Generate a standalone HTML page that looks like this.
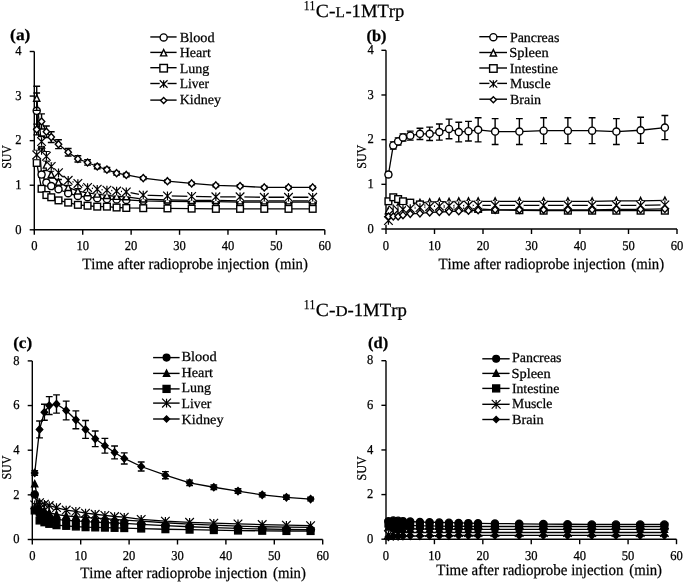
<!DOCTYPE html><html><head><meta charset="utf-8"><style>html,body{margin:0;padding:0;background:#fff;overflow:hidden}svg{display:block;will-change:transform}text{font-family:"Liberation Serif",serif;fill:#000;stroke:#000;stroke-width:0.25px;font-kerning:none;text-rendering:geometricPrecision}</style></head><body>
<svg width="685" height="583" viewBox="0 0 685 583">
<rect width="685" height="583" fill="#fff"/>
<path d="M34.3 51.5V229.8H324.8" fill="none" stroke="#000" stroke-width="1.4"/>
<path d="M29.70 229.80H34.3" stroke="#000" stroke-width="1.4"/>
<text x="21.50" y="233.50" font-size="13.5" text-anchor="end" textLength="6.28" lengthAdjust="spacingAndGlyphs">0</text>
<path d="M29.70 185.23H34.3" stroke="#000" stroke-width="1.4"/>
<text x="21.50" y="188.93" font-size="13.5" text-anchor="end" textLength="6.28" lengthAdjust="spacingAndGlyphs">1</text>
<path d="M29.70 140.65H34.3" stroke="#000" stroke-width="1.4"/>
<text x="21.50" y="144.35" font-size="13.5" text-anchor="end" textLength="6.28" lengthAdjust="spacingAndGlyphs">2</text>
<path d="M29.70 96.07H34.3" stroke="#000" stroke-width="1.4"/>
<text x="21.50" y="99.77" font-size="13.5" text-anchor="end" textLength="6.28" lengthAdjust="spacingAndGlyphs">3</text>
<path d="M29.70 51.50H34.3" stroke="#000" stroke-width="1.4"/>
<text x="21.50" y="55.20" font-size="13.5" text-anchor="end" textLength="6.28" lengthAdjust="spacingAndGlyphs">4</text>
<path d="M34.30 229.8V234.8" stroke="#000" stroke-width="1.4"/>
<text x="34.30" y="250.30" font-size="13.5" text-anchor="middle" textLength="6.28" lengthAdjust="spacingAndGlyphs">0</text>
<path d="M82.72 229.8V234.8" stroke="#000" stroke-width="1.4"/>
<text x="82.72" y="250.30" font-size="13.5" text-anchor="middle" textLength="12.56" lengthAdjust="spacingAndGlyphs">10</text>
<path d="M131.13 229.8V234.8" stroke="#000" stroke-width="1.4"/>
<text x="131.13" y="250.30" font-size="13.5" text-anchor="middle" textLength="12.56" lengthAdjust="spacingAndGlyphs">20</text>
<path d="M179.55 229.8V234.8" stroke="#000" stroke-width="1.4"/>
<text x="179.55" y="250.30" font-size="13.5" text-anchor="middle" textLength="12.56" lengthAdjust="spacingAndGlyphs">30</text>
<path d="M227.97 229.8V234.8" stroke="#000" stroke-width="1.4"/>
<text x="227.97" y="250.30" font-size="13.5" text-anchor="middle" textLength="12.56" lengthAdjust="spacingAndGlyphs">40</text>
<path d="M276.38 229.8V234.8" stroke="#000" stroke-width="1.4"/>
<text x="276.38" y="250.30" font-size="13.5" text-anchor="middle" textLength="12.56" lengthAdjust="spacingAndGlyphs">50</text>
<path d="M324.80 229.8V234.8" stroke="#000" stroke-width="1.4"/>
<text x="324.80" y="250.30" font-size="13.5" text-anchor="middle" textLength="12.56" lengthAdjust="spacingAndGlyphs">60</text>
<polyline points="36.72,110.78 41.56,174.53 46.40,182.55 51.25,186.12 58.51,189.24 68.19,193.25 77.88,195.92 87.56,197.26 97.24,198.15 106.92,199.04 116.61,199.49 126.29,199.93 143.24,200.83 167.45,201.27 191.65,201.72 215.86,201.72 240.07,202.16 264.28,202.16 288.49,202.16 312.70,202.16" fill="none" stroke="#000" stroke-width="1.3" stroke-linejoin="round"/>
<polyline points="36.72,98.30 41.56,145.11 46.40,165.17 51.25,174.53 58.51,182.10 68.19,187.45 77.88,191.02 87.56,192.80 97.24,194.14 106.92,195.48 116.61,196.37 126.29,196.81 143.24,199.04 167.45,199.93 191.65,200.38 215.86,200.38 240.07,200.83 264.28,200.83 288.49,200.83 312.70,200.83" fill="none" stroke="#000" stroke-width="1.3" stroke-linejoin="round"/>
<polyline points="36.72,162.94 41.56,188.79 46.40,195.03 51.25,197.26 58.51,200.38 68.19,202.61 77.88,204.84 87.56,205.73 97.24,206.62 106.92,206.62 116.61,207.51 126.29,207.96 143.24,208.18 167.45,208.40 191.65,208.63 215.86,208.85 240.07,208.85 264.28,208.85 288.49,208.85 312.70,208.85" fill="none" stroke="#000" stroke-width="1.3" stroke-linejoin="round"/>
<polyline points="36.72,154.91 41.56,141.54 46.40,156.25 51.25,166.50 58.51,172.74 68.19,180.32 77.88,183.44 87.56,187.45 97.24,189.24 106.92,190.13 116.61,191.02 126.29,191.91 143.24,195.03 167.45,195.92 191.65,196.37 215.86,196.81 240.07,196.81 264.28,197.26 288.49,197.26 312.70,197.26" fill="none" stroke="#000" stroke-width="1.3" stroke-linejoin="round"/>
<polyline points="36.72,129.51 41.56,121.48 46.40,131.74 51.25,137.08 58.51,144.22 68.19,152.24 77.88,158.93 87.56,162.49 97.24,166.50 106.92,169.62 116.61,173.19 126.29,174.97 143.24,178.09 167.45,181.21 191.65,183.44 215.86,185.45 240.07,186.12 264.28,187.45 288.49,187.45 312.70,187.45" fill="none" stroke="#000" stroke-width="1.3" stroke-linejoin="round"/>
<path d="M36.72 92.95V128.61M33.32 92.95H40.12M33.32 128.61H40.12" stroke="#000" stroke-width="1.4"/>
<path d="M41.56 171.85V177.20M38.16 171.85H44.96M38.16 177.20H44.96" stroke="#000" stroke-width="1.4"/>
<path d="M46.40 180.32V184.78M43.00 180.32H49.80M43.00 184.78H49.80" stroke="#000" stroke-width="1.4"/>
<path d="M51.25 184.33V187.90M47.85 184.33H54.65M47.85 187.90H54.65" stroke="#000" stroke-width="1.4"/>
<path d="M58.51 187.90V190.57M55.11 187.90H61.91M55.11 190.57H61.91" stroke="#000" stroke-width="1.4"/>
<path d="M68.19 191.91V194.59M64.79 191.91H71.59M64.79 194.59H71.59" stroke="#000" stroke-width="1.4"/>
<path d="M77.88 194.59V197.26M74.47 194.59H81.28M74.47 197.26H81.28" stroke="#000" stroke-width="1.4"/>
<path d="M87.56 195.92V198.60M84.16 195.92H90.96M84.16 198.60H90.96" stroke="#000" stroke-width="1.4"/>
<path d="M97.24 196.81V199.49M93.84 196.81H100.64M93.84 199.49H100.64" stroke="#000" stroke-width="1.4"/>
<path d="M106.92 197.71V200.38M103.52 197.71H110.33M103.52 200.38H110.33" stroke="#000" stroke-width="1.4"/>
<path d="M116.61 198.15V200.83M113.21 198.15H120.01M113.21 200.83H120.01" stroke="#000" stroke-width="1.4"/>
<path d="M126.29 198.60V201.27M122.89 198.60H129.69M122.89 201.27H129.69" stroke="#000" stroke-width="1.4"/>
<path d="M143.24 199.49V202.16M139.84 199.49H146.64M139.84 202.16H146.64" stroke="#000" stroke-width="1.4"/>
<path d="M167.45 199.93V202.61M164.05 199.93H170.85M164.05 202.61H170.85" stroke="#000" stroke-width="1.4"/>
<path d="M191.65 200.38V203.06M188.25 200.38H195.05M188.25 203.06H195.05" stroke="#000" stroke-width="1.4"/>
<path d="M215.86 200.38V203.06M212.46 200.38H219.26M212.46 203.06H219.26" stroke="#000" stroke-width="1.4"/>
<path d="M240.07 200.83V203.50M236.67 200.83H243.47M236.67 203.50H243.47" stroke="#000" stroke-width="1.4"/>
<path d="M264.28 200.83V203.50M260.88 200.83H267.68M260.88 203.50H267.68" stroke="#000" stroke-width="1.4"/>
<path d="M288.49 200.83V203.50M285.09 200.83H291.89M285.09 203.50H291.89" stroke="#000" stroke-width="1.4"/>
<path d="M312.70 200.83V203.50M309.30 200.83H316.10M309.30 203.50H316.10" stroke="#000" stroke-width="1.4"/>
<circle cx="36.72" cy="110.78" r="3.55" fill="#fff" stroke="#000" stroke-width="1.4"/>
<circle cx="41.56" cy="174.53" r="3.55" fill="#fff" stroke="#000" stroke-width="1.4"/>
<circle cx="46.40" cy="182.55" r="3.55" fill="#fff" stroke="#000" stroke-width="1.4"/>
<circle cx="51.25" cy="186.12" r="3.55" fill="#fff" stroke="#000" stroke-width="1.4"/>
<circle cx="58.51" cy="189.24" r="3.55" fill="#fff" stroke="#000" stroke-width="1.4"/>
<circle cx="68.19" cy="193.25" r="3.55" fill="#fff" stroke="#000" stroke-width="1.4"/>
<circle cx="77.88" cy="195.92" r="3.55" fill="#fff" stroke="#000" stroke-width="1.4"/>
<circle cx="87.56" cy="197.26" r="3.55" fill="#fff" stroke="#000" stroke-width="1.4"/>
<circle cx="97.24" cy="198.15" r="3.55" fill="#fff" stroke="#000" stroke-width="1.4"/>
<circle cx="106.92" cy="199.04" r="3.55" fill="#fff" stroke="#000" stroke-width="1.4"/>
<circle cx="116.61" cy="199.49" r="3.55" fill="#fff" stroke="#000" stroke-width="1.4"/>
<circle cx="126.29" cy="199.93" r="3.55" fill="#fff" stroke="#000" stroke-width="1.4"/>
<circle cx="143.24" cy="200.83" r="3.55" fill="#fff" stroke="#000" stroke-width="1.4"/>
<circle cx="167.45" cy="201.27" r="3.55" fill="#fff" stroke="#000" stroke-width="1.4"/>
<circle cx="191.65" cy="201.72" r="3.55" fill="#fff" stroke="#000" stroke-width="1.4"/>
<circle cx="215.86" cy="201.72" r="3.55" fill="#fff" stroke="#000" stroke-width="1.4"/>
<circle cx="240.07" cy="202.16" r="3.55" fill="#fff" stroke="#000" stroke-width="1.4"/>
<circle cx="264.28" cy="202.16" r="3.55" fill="#fff" stroke="#000" stroke-width="1.4"/>
<circle cx="288.49" cy="202.16" r="3.55" fill="#fff" stroke="#000" stroke-width="1.4"/>
<circle cx="312.70" cy="202.16" r="3.55" fill="#fff" stroke="#000" stroke-width="1.4"/>
<path d="M36.72 86.27V110.34M33.32 86.27H40.12M33.32 110.34H40.12" stroke="#000" stroke-width="1.4"/>
<path d="M41.56 136.19V154.02M38.16 136.19H44.96M38.16 154.02H44.96" stroke="#000" stroke-width="1.4"/>
<path d="M46.40 159.82V170.52M43.00 159.82H49.80M43.00 170.52H49.80" stroke="#000" stroke-width="1.4"/>
<path d="M51.25 170.96V178.09M47.85 170.96H54.65M47.85 178.09H54.65" stroke="#000" stroke-width="1.4"/>
<path d="M58.51 179.43V184.78M55.11 179.43H61.91M55.11 184.78H61.91" stroke="#000" stroke-width="1.4"/>
<path d="M68.19 185.23V189.68M64.79 185.23H71.59M64.79 189.68H71.59" stroke="#000" stroke-width="1.4"/>
<path d="M77.88 188.79V193.25M74.47 188.79H81.28M74.47 193.25H81.28" stroke="#000" stroke-width="1.4"/>
<path d="M87.56 190.57V195.03M84.16 190.57H90.96M84.16 195.03H90.96" stroke="#000" stroke-width="1.4"/>
<path d="M97.24 192.36V195.92M93.84 192.36H100.64M93.84 195.92H100.64" stroke="#000" stroke-width="1.4"/>
<path d="M106.92 193.69V197.26M103.52 193.69H110.33M103.52 197.26H110.33" stroke="#000" stroke-width="1.4"/>
<path d="M116.61 194.59V198.15M113.21 194.59H120.01M113.21 198.15H120.01" stroke="#000" stroke-width="1.4"/>
<path d="M126.29 195.03V198.60M122.89 195.03H129.69M122.89 198.60H129.69" stroke="#000" stroke-width="1.4"/>
<path d="M143.24 197.71V200.38M139.84 197.71H146.64M139.84 200.38H146.64" stroke="#000" stroke-width="1.4"/>
<path d="M167.45 198.60V201.27M164.05 198.60H170.85M164.05 201.27H170.85" stroke="#000" stroke-width="1.4"/>
<path d="M191.65 199.04V201.72M188.25 199.04H195.05M188.25 201.72H195.05" stroke="#000" stroke-width="1.4"/>
<path d="M215.86 199.04V201.72M212.46 199.04H219.26M212.46 201.72H219.26" stroke="#000" stroke-width="1.4"/>
<path d="M240.07 199.49V202.16M236.67 199.49H243.47M236.67 202.16H243.47" stroke="#000" stroke-width="1.4"/>
<path d="M264.28 199.49V202.16M260.88 199.49H267.68M260.88 202.16H267.68" stroke="#000" stroke-width="1.4"/>
<path d="M288.49 199.49V202.16M285.09 199.49H291.89M285.09 202.16H291.89" stroke="#000" stroke-width="1.4"/>
<path d="M312.70 199.49V202.16M309.30 199.49H316.10M309.30 202.16H316.10" stroke="#000" stroke-width="1.4"/>
<path d="M36.72 94.90L39.82 101.30L33.62 101.30Z" fill="#fff" stroke="#000" stroke-width="1.4" stroke-linejoin="miter"/>
<path d="M41.56 141.71L44.66 148.11L38.46 148.11Z" fill="#fff" stroke="#000" stroke-width="1.4" stroke-linejoin="miter"/>
<path d="M46.40 161.77L49.50 168.17L43.30 168.17Z" fill="#fff" stroke="#000" stroke-width="1.4" stroke-linejoin="miter"/>
<path d="M51.25 171.13L54.35 177.53L48.15 177.53Z" fill="#fff" stroke="#000" stroke-width="1.4" stroke-linejoin="miter"/>
<path d="M58.51 178.70L61.61 185.10L55.41 185.10Z" fill="#fff" stroke="#000" stroke-width="1.4" stroke-linejoin="miter"/>
<path d="M68.19 184.05L71.29 190.45L65.09 190.45Z" fill="#fff" stroke="#000" stroke-width="1.4" stroke-linejoin="miter"/>
<path d="M77.88 187.62L80.97 194.02L74.78 194.02Z" fill="#fff" stroke="#000" stroke-width="1.4" stroke-linejoin="miter"/>
<path d="M87.56 189.40L90.66 195.80L84.46 195.80Z" fill="#fff" stroke="#000" stroke-width="1.4" stroke-linejoin="miter"/>
<path d="M97.24 190.74L100.34 197.14L94.14 197.14Z" fill="#fff" stroke="#000" stroke-width="1.4" stroke-linejoin="miter"/>
<path d="M106.92 192.08L110.02 198.48L103.83 198.48Z" fill="#fff" stroke="#000" stroke-width="1.4" stroke-linejoin="miter"/>
<path d="M116.61 192.97L119.71 199.37L113.51 199.37Z" fill="#fff" stroke="#000" stroke-width="1.4" stroke-linejoin="miter"/>
<path d="M126.29 193.41L129.39 199.81L123.19 199.81Z" fill="#fff" stroke="#000" stroke-width="1.4" stroke-linejoin="miter"/>
<path d="M143.24 195.64L146.34 202.04L140.14 202.04Z" fill="#fff" stroke="#000" stroke-width="1.4" stroke-linejoin="miter"/>
<path d="M167.45 196.53L170.55 202.93L164.35 202.93Z" fill="#fff" stroke="#000" stroke-width="1.4" stroke-linejoin="miter"/>
<path d="M191.65 196.98L194.75 203.38L188.55 203.38Z" fill="#fff" stroke="#000" stroke-width="1.4" stroke-linejoin="miter"/>
<path d="M215.86 196.98L218.96 203.38L212.76 203.38Z" fill="#fff" stroke="#000" stroke-width="1.4" stroke-linejoin="miter"/>
<path d="M240.07 197.43L243.17 203.83L236.97 203.83Z" fill="#fff" stroke="#000" stroke-width="1.4" stroke-linejoin="miter"/>
<path d="M264.28 197.43L267.38 203.83L261.18 203.83Z" fill="#fff" stroke="#000" stroke-width="1.4" stroke-linejoin="miter"/>
<path d="M288.49 197.43L291.59 203.83L285.39 203.83Z" fill="#fff" stroke="#000" stroke-width="1.4" stroke-linejoin="miter"/>
<path d="M312.70 197.43L315.80 203.83L309.60 203.83Z" fill="#fff" stroke="#000" stroke-width="1.4" stroke-linejoin="miter"/>
<rect x="33.37" y="159.59" width="6.7" height="6.7" fill="#fff" stroke="#000" stroke-width="1.4"/>
<rect x="38.21" y="185.44" width="6.7" height="6.7" fill="#fff" stroke="#000" stroke-width="1.4"/>
<rect x="43.05" y="191.68" width="6.7" height="6.7" fill="#fff" stroke="#000" stroke-width="1.4"/>
<rect x="47.90" y="193.91" width="6.7" height="6.7" fill="#fff" stroke="#000" stroke-width="1.4"/>
<rect x="55.16" y="197.03" width="6.7" height="6.7" fill="#fff" stroke="#000" stroke-width="1.4"/>
<rect x="64.84" y="199.26" width="6.7" height="6.7" fill="#fff" stroke="#000" stroke-width="1.4"/>
<rect x="74.53" y="201.49" width="6.7" height="6.7" fill="#fff" stroke="#000" stroke-width="1.4"/>
<rect x="84.21" y="202.38" width="6.7" height="6.7" fill="#fff" stroke="#000" stroke-width="1.4"/>
<rect x="93.89" y="203.27" width="6.7" height="6.7" fill="#fff" stroke="#000" stroke-width="1.4"/>
<rect x="103.58" y="203.27" width="6.7" height="6.7" fill="#fff" stroke="#000" stroke-width="1.4"/>
<rect x="113.26" y="204.16" width="6.7" height="6.7" fill="#fff" stroke="#000" stroke-width="1.4"/>
<rect x="122.94" y="204.61" width="6.7" height="6.7" fill="#fff" stroke="#000" stroke-width="1.4"/>
<rect x="139.89" y="204.83" width="6.7" height="6.7" fill="#fff" stroke="#000" stroke-width="1.4"/>
<rect x="164.10" y="205.05" width="6.7" height="6.7" fill="#fff" stroke="#000" stroke-width="1.4"/>
<rect x="188.30" y="205.28" width="6.7" height="6.7" fill="#fff" stroke="#000" stroke-width="1.4"/>
<rect x="212.51" y="205.50" width="6.7" height="6.7" fill="#fff" stroke="#000" stroke-width="1.4"/>
<rect x="236.72" y="205.50" width="6.7" height="6.7" fill="#fff" stroke="#000" stroke-width="1.4"/>
<rect x="260.93" y="205.50" width="6.7" height="6.7" fill="#fff" stroke="#000" stroke-width="1.4"/>
<rect x="285.14" y="205.50" width="6.7" height="6.7" fill="#fff" stroke="#000" stroke-width="1.4"/>
<rect x="309.35" y="205.50" width="6.7" height="6.7" fill="#fff" stroke="#000" stroke-width="1.4"/>
<path d="M36.72 150.46V159.37M33.32 150.46H40.12M33.32 159.37H40.12" stroke="#000" stroke-width="1.4"/>
<path d="M41.56 136.19V146.89M38.16 136.19H44.96M38.16 146.89H44.96" stroke="#000" stroke-width="1.4"/>
<path d="M46.40 151.79V160.71M43.00 151.79H49.80M43.00 160.71H49.80" stroke="#000" stroke-width="1.4"/>
<path d="M51.25 162.94V170.07M47.85 162.94H54.65M47.85 170.07H54.65" stroke="#000" stroke-width="1.4"/>
<path d="M58.51 170.07V175.42M55.11 170.07H61.91M55.11 175.42H61.91" stroke="#000" stroke-width="1.4"/>
<path d="M68.19 178.09V182.55M64.79 178.09H71.59M64.79 182.55H71.59" stroke="#000" stroke-width="1.4"/>
<path d="M77.88 181.21V185.67M74.47 181.21H81.28M74.47 185.67H81.28" stroke="#000" stroke-width="1.4"/>
<path d="M87.56 185.23V189.68M84.16 185.23H90.96M84.16 189.68H90.96" stroke="#000" stroke-width="1.4"/>
<path d="M97.24 187.45V191.02M93.84 187.45H100.64M93.84 191.02H100.64" stroke="#000" stroke-width="1.4"/>
<path d="M106.92 188.35V191.91M103.52 188.35H110.33M103.52 191.91H110.33" stroke="#000" stroke-width="1.4"/>
<path d="M116.61 189.24V192.80M113.21 189.24H120.01M113.21 192.80H120.01" stroke="#000" stroke-width="1.4"/>
<path d="M126.29 190.13V193.69M122.89 190.13H129.69M122.89 193.69H129.69" stroke="#000" stroke-width="1.4"/>
<path d="M143.24 193.69V196.37M139.84 193.69H146.64M139.84 196.37H146.64" stroke="#000" stroke-width="1.4"/>
<path d="M167.45 194.59V197.26M164.05 194.59H170.85M164.05 197.26H170.85" stroke="#000" stroke-width="1.4"/>
<path d="M191.65 195.03V197.71M188.25 195.03H195.05M188.25 197.71H195.05" stroke="#000" stroke-width="1.4"/>
<path d="M215.86 195.48V198.15M212.46 195.48H219.26M212.46 198.15H219.26" stroke="#000" stroke-width="1.4"/>
<path d="M240.07 195.48V198.15M236.67 195.48H243.47M236.67 198.15H243.47" stroke="#000" stroke-width="1.4"/>
<path d="M264.28 195.92V198.60M260.88 195.92H267.68M260.88 198.60H267.68" stroke="#000" stroke-width="1.4"/>
<path d="M288.49 195.92V198.60M285.09 195.92H291.89M285.09 198.60H291.89" stroke="#000" stroke-width="1.4"/>
<path d="M312.70 195.92V198.60M309.30 195.92H316.10M309.30 198.60H316.10" stroke="#000" stroke-width="1.4"/>
<rect x="32.42" y="150.61" width="8.60" height="8.60" fill="#fff"/><path d="M32.42 150.61L41.02 159.21M41.02 150.61L32.42 159.21M36.72 150.61L36.72 159.21" fill="none" stroke="#000" stroke-width="1.2"/>
<rect x="37.26" y="137.24" width="8.60" height="8.60" fill="#fff"/><path d="M37.26 137.24L45.86 145.84M45.86 137.24L37.26 145.84M41.56 137.24L41.56 145.84" fill="none" stroke="#000" stroke-width="1.2"/>
<rect x="42.10" y="151.95" width="8.60" height="8.60" fill="#fff"/><path d="M42.10 151.95L50.70 160.55M50.70 151.95L42.10 160.55M46.40 151.95L46.40 160.55" fill="none" stroke="#000" stroke-width="1.2"/>
<rect x="46.95" y="162.20" width="8.60" height="8.60" fill="#fff"/><path d="M46.95 162.20L55.55 170.80M55.55 162.20L46.95 170.80M51.25 162.20L51.25 170.80" fill="none" stroke="#000" stroke-width="1.2"/>
<rect x="54.21" y="168.44" width="8.60" height="8.60" fill="#fff"/><path d="M54.21 168.44L62.81 177.04M62.81 168.44L54.21 177.04M58.51 168.44L58.51 177.04" fill="none" stroke="#000" stroke-width="1.2"/>
<rect x="63.89" y="176.02" width="8.60" height="8.60" fill="#fff"/><path d="M63.89 176.02L72.49 184.62M72.49 176.02L63.89 184.62M68.19 176.02L68.19 184.62" fill="none" stroke="#000" stroke-width="1.2"/>
<rect x="73.58" y="179.14" width="8.60" height="8.60" fill="#fff"/><path d="M73.58 179.14L82.17 187.74M82.17 179.14L73.58 187.74M77.88 179.14L77.88 187.74" fill="none" stroke="#000" stroke-width="1.2"/>
<rect x="83.26" y="183.15" width="8.60" height="8.60" fill="#fff"/><path d="M83.26 183.15L91.86 191.75M91.86 183.15L83.26 191.75M87.56 183.15L87.56 191.75" fill="none" stroke="#000" stroke-width="1.2"/>
<rect x="92.94" y="184.94" width="8.60" height="8.60" fill="#fff"/><path d="M92.94 184.94L101.54 193.54M101.54 184.94L92.94 193.54M97.24 184.94L97.24 193.54" fill="none" stroke="#000" stroke-width="1.2"/>
<rect x="102.62" y="185.83" width="8.60" height="8.60" fill="#fff"/><path d="M102.62 185.83L111.22 194.43M111.22 185.83L102.62 194.43M106.92 185.83L106.92 194.43" fill="none" stroke="#000" stroke-width="1.2"/>
<rect x="112.31" y="186.72" width="8.60" height="8.60" fill="#fff"/><path d="M112.31 186.72L120.91 195.32M120.91 186.72L112.31 195.32M116.61 186.72L116.61 195.32" fill="none" stroke="#000" stroke-width="1.2"/>
<rect x="121.99" y="187.61" width="8.60" height="8.60" fill="#fff"/><path d="M121.99 187.61L130.59 196.21M130.59 187.61L121.99 196.21M126.29 187.61L126.29 196.21" fill="none" stroke="#000" stroke-width="1.2"/>
<rect x="138.94" y="190.73" width="8.60" height="8.60" fill="#fff"/><path d="M138.94 190.73L147.54 199.33M147.54 190.73L138.94 199.33M143.24 190.73L143.24 199.33" fill="none" stroke="#000" stroke-width="1.2"/>
<rect x="163.15" y="191.62" width="8.60" height="8.60" fill="#fff"/><path d="M163.15 191.62L171.75 200.22M171.75 191.62L163.15 200.22M167.45 191.62L167.45 200.22" fill="none" stroke="#000" stroke-width="1.2"/>
<rect x="187.35" y="192.07" width="8.60" height="8.60" fill="#fff"/><path d="M187.35 192.07L195.95 200.67M195.95 192.07L187.35 200.67M191.65 192.07L191.65 200.67" fill="none" stroke="#000" stroke-width="1.2"/>
<rect x="211.56" y="192.51" width="8.60" height="8.60" fill="#fff"/><path d="M211.56 192.51L220.16 201.11M220.16 192.51L211.56 201.11M215.86 192.51L215.86 201.11" fill="none" stroke="#000" stroke-width="1.2"/>
<rect x="235.77" y="192.51" width="8.60" height="8.60" fill="#fff"/><path d="M235.77 192.51L244.37 201.11M244.37 192.51L235.77 201.11M240.07 192.51L240.07 201.11" fill="none" stroke="#000" stroke-width="1.2"/>
<rect x="259.98" y="192.96" width="8.60" height="8.60" fill="#fff"/><path d="M259.98 192.96L268.58 201.56M268.58 192.96L259.98 201.56M264.28 192.96L264.28 201.56" fill="none" stroke="#000" stroke-width="1.2"/>
<rect x="284.19" y="192.96" width="8.60" height="8.60" fill="#fff"/><path d="M284.19 192.96L292.79 201.56M292.79 192.96L284.19 201.56M288.49 192.96L288.49 201.56" fill="none" stroke="#000" stroke-width="1.2"/>
<rect x="308.40" y="192.96" width="8.60" height="8.60" fill="#fff"/><path d="M308.40 192.96L317.00 201.56M317.00 192.96L308.40 201.56M312.70 192.96L312.70 201.56" fill="none" stroke="#000" stroke-width="1.2"/>
<path d="M36.72 124.16V134.86M33.32 124.16H40.12M33.32 134.86H40.12" stroke="#000" stroke-width="1.4"/>
<path d="M41.56 113.91V129.06M38.16 113.91H44.96M38.16 129.06H44.96" stroke="#000" stroke-width="1.4"/>
<path d="M46.40 125.94V137.53M43.00 125.94H49.80M43.00 137.53H49.80" stroke="#000" stroke-width="1.4"/>
<path d="M51.25 131.74V142.43M47.85 131.74H54.65M47.85 142.43H54.65" stroke="#000" stroke-width="1.4"/>
<path d="M58.51 139.76V148.67M55.11 139.76H61.91M55.11 148.67H61.91" stroke="#000" stroke-width="1.4"/>
<path d="M68.19 148.54V155.94M64.79 148.54H71.59M64.79 155.94H71.59" stroke="#000" stroke-width="1.4"/>
<path d="M77.88 155.81V162.05M74.47 155.81H81.28M74.47 162.05H81.28" stroke="#000" stroke-width="1.4"/>
<path d="M87.56 159.82V165.17M84.16 159.82H90.96M84.16 165.17H90.96" stroke="#000" stroke-width="1.4"/>
<path d="M97.24 164.27V168.73M93.84 164.27H100.64M93.84 168.73H100.64" stroke="#000" stroke-width="1.4"/>
<path d="M106.92 167.40V171.85M103.52 167.40H110.33M103.52 171.85H110.33" stroke="#000" stroke-width="1.4"/>
<path d="M116.61 171.41V174.97M113.21 171.41H120.01M113.21 174.97H120.01" stroke="#000" stroke-width="1.4"/>
<path d="M126.29 173.19V176.76M122.89 173.19H129.69M122.89 176.76H129.69" stroke="#000" stroke-width="1.4"/>
<path d="M143.24 176.76V179.43M139.84 176.76H146.64M139.84 179.43H146.64" stroke="#000" stroke-width="1.4"/>
<path d="M167.45 179.88V182.55M164.05 179.88H170.85M164.05 182.55H170.85" stroke="#000" stroke-width="1.4"/>
<path d="M191.65 182.10V184.78M188.25 182.10H195.05M188.25 184.78H195.05" stroke="#000" stroke-width="1.4"/>
<path d="M215.86 184.11V186.79M212.46 184.11H219.26M212.46 186.79H219.26" stroke="#000" stroke-width="1.4"/>
<path d="M240.07 184.78V187.45M236.67 184.78H243.47M236.67 187.45H243.47" stroke="#000" stroke-width="1.4"/>
<path d="M264.28 186.12V188.79M260.88 186.12H267.68M260.88 188.79H267.68" stroke="#000" stroke-width="1.4"/>
<path d="M288.49 186.12V188.79M285.09 186.12H291.89M285.09 188.79H291.89" stroke="#000" stroke-width="1.4"/>
<path d="M312.70 186.12V188.79M309.30 186.12H316.10M309.30 188.79H316.10" stroke="#000" stroke-width="1.4"/>
<path d="M36.72 125.96L39.92 129.51L36.72 133.06L33.52 129.51Z" fill="#fff" stroke="#000" stroke-width="1.4"/>
<path d="M41.56 117.93L44.76 121.48L41.56 125.03L38.36 121.48Z" fill="#fff" stroke="#000" stroke-width="1.4"/>
<path d="M46.40 128.19L49.60 131.74L46.40 135.29L43.20 131.74Z" fill="#fff" stroke="#000" stroke-width="1.4"/>
<path d="M51.25 133.53L54.45 137.08L51.25 140.63L48.05 137.08Z" fill="#fff" stroke="#000" stroke-width="1.4"/>
<path d="M58.51 140.67L61.71 144.22L58.51 147.77L55.31 144.22Z" fill="#fff" stroke="#000" stroke-width="1.4"/>
<path d="M68.19 148.69L71.39 152.24L68.19 155.79L64.99 152.24Z" fill="#fff" stroke="#000" stroke-width="1.4"/>
<path d="M77.88 155.38L81.08 158.93L77.88 162.48L74.67 158.93Z" fill="#fff" stroke="#000" stroke-width="1.4"/>
<path d="M87.56 158.94L90.76 162.49L87.56 166.04L84.36 162.49Z" fill="#fff" stroke="#000" stroke-width="1.4"/>
<path d="M97.24 162.95L100.44 166.50L97.24 170.05L94.04 166.50Z" fill="#fff" stroke="#000" stroke-width="1.4"/>
<path d="M106.92 166.07L110.12 169.62L106.92 173.17L103.72 169.62Z" fill="#fff" stroke="#000" stroke-width="1.4"/>
<path d="M116.61 169.64L119.81 173.19L116.61 176.74L113.41 173.19Z" fill="#fff" stroke="#000" stroke-width="1.4"/>
<path d="M126.29 171.42L129.49 174.97L126.29 178.52L123.09 174.97Z" fill="#fff" stroke="#000" stroke-width="1.4"/>
<path d="M143.24 174.54L146.44 178.09L143.24 181.64L140.04 178.09Z" fill="#fff" stroke="#000" stroke-width="1.4"/>
<path d="M167.45 177.66L170.65 181.21L167.45 184.76L164.25 181.21Z" fill="#fff" stroke="#000" stroke-width="1.4"/>
<path d="M191.65 179.89L194.85 183.44L191.65 186.99L188.45 183.44Z" fill="#fff" stroke="#000" stroke-width="1.4"/>
<path d="M215.86 181.90L219.06 185.45L215.86 189.00L212.66 185.45Z" fill="#fff" stroke="#000" stroke-width="1.4"/>
<path d="M240.07 182.57L243.27 186.12L240.07 189.67L236.87 186.12Z" fill="#fff" stroke="#000" stroke-width="1.4"/>
<path d="M264.28 183.90L267.48 187.45L264.28 191.00L261.08 187.45Z" fill="#fff" stroke="#000" stroke-width="1.4"/>
<path d="M288.49 183.90L291.69 187.45L288.49 191.00L285.29 187.45Z" fill="#fff" stroke="#000" stroke-width="1.4"/>
<path d="M312.70 183.90L315.90 187.45L312.70 191.00L309.50 187.45Z" fill="#fff" stroke="#000" stroke-width="1.4"/>
<path d="M150.3 36.95H176.6" stroke="#000" stroke-width="1.4"/>
<circle cx="163.65" cy="37.45" r="3.55" fill="#fff" stroke="#000" stroke-width="1.4"/>
<text x="179.69" y="41.90" font-size="13.8" textLength="34.89" lengthAdjust="spacingAndGlyphs">Blood</text>
<path d="M150.3 52.40H176.6" stroke="#000" stroke-width="1.4"/>
<path d="M163.65 49.50L166.75 55.90L160.55 55.90Z" fill="#fff" stroke="#000" stroke-width="1.4" stroke-linejoin="miter"/>
<text x="179.70" y="57.30" font-size="13.8" textLength="31.19" lengthAdjust="spacingAndGlyphs">Heart</text>
<path d="M150.3 67.70H176.6" stroke="#000" stroke-width="1.4"/>
<rect x="159.90" y="64.45" width="7.5" height="7.5" fill="#fff" stroke="#000" stroke-width="1.4"/>
<text x="179.70" y="72.70" font-size="13.8" textLength="29.57" lengthAdjust="spacingAndGlyphs">Lung</text>
<path d="M150.3 83.50H176.6" stroke="#000" stroke-width="1.4"/>
<rect x="159.75" y="80.30" width="7.80" height="7.40" fill="#fff"/><path d="M159.75 80.30L167.55 87.70M167.55 80.30L159.75 87.70M163.65 80.30L163.65 87.70" fill="none" stroke="#000" stroke-width="1.2"/>
<text x="179.71" y="88.00" font-size="13.8" textLength="29.41" lengthAdjust="spacingAndGlyphs">Liver</text>
<path d="M150.3 100.10H176.6" stroke="#000" stroke-width="1.4"/>
<path d="M163.65 97.60L166.65 100.60L163.65 103.60L160.65 100.60Z" fill="#fff" stroke="#000" stroke-width="1.4"/>
<text x="179.70" y="103.50" font-size="13.8" textLength="41.36" lengthAdjust="spacingAndGlyphs">Kidney</text>
<path d="M386.0 50.3V229.0H677.0" fill="none" stroke="#000" stroke-width="1.4"/>
<path d="M381.40 229.00H386.0" stroke="#000" stroke-width="1.4"/>
<text x="373.90" y="232.70" font-size="13.5" text-anchor="end" textLength="6.28" lengthAdjust="spacingAndGlyphs">0</text>
<path d="M381.40 184.32H386.0" stroke="#000" stroke-width="1.4"/>
<text x="373.90" y="188.02" font-size="13.5" text-anchor="end" textLength="6.28" lengthAdjust="spacingAndGlyphs">1</text>
<path d="M381.40 139.65H386.0" stroke="#000" stroke-width="1.4"/>
<text x="373.90" y="143.35" font-size="13.5" text-anchor="end" textLength="6.28" lengthAdjust="spacingAndGlyphs">2</text>
<path d="M381.40 94.98H386.0" stroke="#000" stroke-width="1.4"/>
<text x="373.90" y="98.68" font-size="13.5" text-anchor="end" textLength="6.28" lengthAdjust="spacingAndGlyphs">3</text>
<path d="M381.40 50.30H386.0" stroke="#000" stroke-width="1.4"/>
<text x="373.90" y="54.00" font-size="13.5" text-anchor="end" textLength="6.28" lengthAdjust="spacingAndGlyphs">4</text>
<path d="M386.00 229.0V234.0" stroke="#000" stroke-width="1.4"/>
<text x="386.00" y="249.50" font-size="13.5" text-anchor="middle" textLength="6.28" lengthAdjust="spacingAndGlyphs">0</text>
<path d="M434.50 229.0V234.0" stroke="#000" stroke-width="1.4"/>
<text x="434.50" y="249.50" font-size="13.5" text-anchor="middle" textLength="12.56" lengthAdjust="spacingAndGlyphs">10</text>
<path d="M483.00 229.0V234.0" stroke="#000" stroke-width="1.4"/>
<text x="483.00" y="249.50" font-size="13.5" text-anchor="middle" textLength="12.56" lengthAdjust="spacingAndGlyphs">20</text>
<path d="M531.50 229.0V234.0" stroke="#000" stroke-width="1.4"/>
<text x="531.50" y="249.50" font-size="13.5" text-anchor="middle" textLength="12.56" lengthAdjust="spacingAndGlyphs">30</text>
<path d="M580.00 229.0V234.0" stroke="#000" stroke-width="1.4"/>
<text x="580.00" y="249.50" font-size="13.5" text-anchor="middle" textLength="12.56" lengthAdjust="spacingAndGlyphs">40</text>
<path d="M628.50 229.0V234.0" stroke="#000" stroke-width="1.4"/>
<text x="628.50" y="249.50" font-size="13.5" text-anchor="middle" textLength="12.56" lengthAdjust="spacingAndGlyphs">50</text>
<path d="M677.00 229.0V234.0" stroke="#000" stroke-width="1.4"/>
<text x="677.00" y="249.50" font-size="13.5" text-anchor="middle" textLength="12.56" lengthAdjust="spacingAndGlyphs">60</text>
<polyline points="388.43,174.50 393.27,145.46 398.12,141.44 402.98,137.42 410.25,135.63 419.95,133.84 429.65,133.84 439.35,132.06 449.05,128.93 458.75,132.06 468.45,131.16 478.15,129.82 495.12,131.61 519.38,131.61 543.62,130.72 567.88,130.72 592.12,130.72 616.38,131.61 640.62,130.27 664.88,127.59" fill="none" stroke="#000" stroke-width="1.3" stroke-linejoin="round"/>
<polyline points="388.43,210.68 393.27,208.90 398.12,206.66 402.98,204.88 410.25,203.54 419.95,202.64 429.65,202.19 439.35,201.75 449.05,201.75 458.75,201.30 468.45,201.30 478.15,201.30 495.12,201.30 519.38,201.30 543.62,201.30 567.88,201.30 592.12,201.30 616.38,200.85 640.62,200.85 664.88,200.41" fill="none" stroke="#000" stroke-width="1.3" stroke-linejoin="round"/>
<polyline points="388.43,201.30 393.27,197.28 398.12,199.07 402.98,201.30 410.25,202.64 419.95,204.43 429.65,205.77 439.35,206.66 449.05,207.56 458.75,208.00 468.45,208.45 478.15,208.90 495.12,209.79 519.38,210.24 543.62,210.68 567.88,210.68 592.12,210.68 616.38,210.68 640.62,210.68 664.88,210.68" fill="none" stroke="#000" stroke-width="1.3" stroke-linejoin="round"/>
<polyline points="388.43,220.51 393.27,210.24 398.12,210.24 402.98,209.34 410.25,208.45 419.95,207.56 429.65,206.66 439.35,206.22 449.05,205.77 458.75,205.77 468.45,205.32 478.15,205.32 495.12,205.32 519.38,205.32 543.62,205.32 567.88,205.32 592.12,205.32 616.38,205.32 640.62,205.32 664.88,204.88" fill="none" stroke="#000" stroke-width="1.3" stroke-linejoin="round"/>
<polyline points="388.43,216.49 393.27,216.49 398.12,216.49 402.98,215.15 410.25,213.81 419.95,213.36 429.65,212.47 439.35,212.02 449.05,211.58 458.75,211.13 468.45,210.68 478.15,210.24 495.12,209.79 519.38,209.79 543.62,209.79 567.88,209.79 592.12,209.79 616.38,209.34 640.62,209.34 664.88,208.90" fill="none" stroke="#000" stroke-width="1.3" stroke-linejoin="round"/>
<path d="M388.43 172.26V176.73M385.03 172.26H391.82M385.03 176.73H391.82" stroke="#000" stroke-width="1.4"/>
<path d="M393.27 141.88V149.03M389.88 141.88H396.67M389.88 149.03H396.67" stroke="#000" stroke-width="1.4"/>
<path d="M398.12 137.86V145.01M394.73 137.86H401.52M394.73 145.01H401.52" stroke="#000" stroke-width="1.4"/>
<path d="M402.98 133.84V140.99M399.58 133.84H406.38M399.58 140.99H406.38" stroke="#000" stroke-width="1.4"/>
<path d="M410.25 131.16V140.10M406.85 131.16H413.65M406.85 140.10H413.65" stroke="#000" stroke-width="1.4"/>
<path d="M419.95 128.26V139.43M416.55 128.26H423.35M416.55 139.43H423.35" stroke="#000" stroke-width="1.4"/>
<path d="M429.65 127.14V140.54M426.25 127.14H433.05M426.25 140.54H433.05" stroke="#000" stroke-width="1.4"/>
<path d="M439.35 124.01V140.10M435.95 124.01H442.75M435.95 140.10H442.75" stroke="#000" stroke-width="1.4"/>
<path d="M449.05 119.10V138.76M445.65 119.10H452.45M445.65 138.76H452.45" stroke="#000" stroke-width="1.4"/>
<path d="M458.75 122.23V141.88M455.35 122.23H462.15M455.35 141.88H462.15" stroke="#000" stroke-width="1.4"/>
<path d="M468.45 121.33V140.99M465.05 121.33H471.85M465.05 140.99H471.85" stroke="#000" stroke-width="1.4"/>
<path d="M478.15 117.76V141.88M474.75 117.76H481.55M474.75 141.88H481.55" stroke="#000" stroke-width="1.4"/>
<path d="M495.12 118.65V144.56M491.73 118.65H498.52M491.73 144.56H498.52" stroke="#000" stroke-width="1.4"/>
<path d="M519.38 118.65V144.56M515.98 118.65H522.77M515.98 144.56H522.77" stroke="#000" stroke-width="1.4"/>
<path d="M543.62 117.76V143.67M540.23 117.76H547.02M540.23 143.67H547.02" stroke="#000" stroke-width="1.4"/>
<path d="M567.88 117.76V143.67M564.48 117.76H571.27M564.48 143.67H571.27" stroke="#000" stroke-width="1.4"/>
<path d="M592.12 117.76V143.67M588.73 117.76H595.52M588.73 143.67H595.52" stroke="#000" stroke-width="1.4"/>
<path d="M616.38 118.65V144.56M612.98 118.65H619.77M612.98 144.56H619.77" stroke="#000" stroke-width="1.4"/>
<path d="M640.62 117.31V143.22M637.23 117.31H644.02M637.23 143.22H644.02" stroke="#000" stroke-width="1.4"/>
<path d="M664.88 115.53V139.65M661.48 115.53H668.27M661.48 139.65H668.27" stroke="#000" stroke-width="1.4"/>
<circle cx="388.43" cy="174.50" r="3.55" fill="#fff" stroke="#000" stroke-width="1.4"/>
<circle cx="393.27" cy="145.46" r="3.55" fill="#fff" stroke="#000" stroke-width="1.4"/>
<circle cx="398.12" cy="141.44" r="3.55" fill="#fff" stroke="#000" stroke-width="1.4"/>
<circle cx="402.98" cy="137.42" r="3.55" fill="#fff" stroke="#000" stroke-width="1.4"/>
<circle cx="410.25" cy="135.63" r="3.55" fill="#fff" stroke="#000" stroke-width="1.4"/>
<circle cx="419.95" cy="133.84" r="3.55" fill="#fff" stroke="#000" stroke-width="1.4"/>
<circle cx="429.65" cy="133.84" r="3.55" fill="#fff" stroke="#000" stroke-width="1.4"/>
<circle cx="439.35" cy="132.06" r="3.55" fill="#fff" stroke="#000" stroke-width="1.4"/>
<circle cx="449.05" cy="128.93" r="3.55" fill="#fff" stroke="#000" stroke-width="1.4"/>
<circle cx="458.75" cy="132.06" r="3.55" fill="#fff" stroke="#000" stroke-width="1.4"/>
<circle cx="468.45" cy="131.16" r="3.55" fill="#fff" stroke="#000" stroke-width="1.4"/>
<circle cx="478.15" cy="129.82" r="3.55" fill="#fff" stroke="#000" stroke-width="1.4"/>
<circle cx="495.12" cy="131.61" r="3.55" fill="#fff" stroke="#000" stroke-width="1.4"/>
<circle cx="519.38" cy="131.61" r="3.55" fill="#fff" stroke="#000" stroke-width="1.4"/>
<circle cx="543.62" cy="130.72" r="3.55" fill="#fff" stroke="#000" stroke-width="1.4"/>
<circle cx="567.88" cy="130.72" r="3.55" fill="#fff" stroke="#000" stroke-width="1.4"/>
<circle cx="592.12" cy="130.72" r="3.55" fill="#fff" stroke="#000" stroke-width="1.4"/>
<circle cx="616.38" cy="131.61" r="3.55" fill="#fff" stroke="#000" stroke-width="1.4"/>
<circle cx="640.62" cy="130.27" r="3.55" fill="#fff" stroke="#000" stroke-width="1.4"/>
<circle cx="664.88" cy="127.59" r="3.55" fill="#fff" stroke="#000" stroke-width="1.4"/>
<path d="M388.43 207.28L391.53 213.68L385.32 213.68Z" fill="#fff" stroke="#000" stroke-width="1.4" stroke-linejoin="miter"/>
<path d="M393.27 205.50L396.38 211.90L390.17 211.90Z" fill="#fff" stroke="#000" stroke-width="1.4" stroke-linejoin="miter"/>
<path d="M398.12 203.26L401.23 209.66L395.02 209.66Z" fill="#fff" stroke="#000" stroke-width="1.4" stroke-linejoin="miter"/>
<path d="M402.98 201.48L406.08 207.88L399.88 207.88Z" fill="#fff" stroke="#000" stroke-width="1.4" stroke-linejoin="miter"/>
<path d="M410.25 200.14L413.35 206.54L407.15 206.54Z" fill="#fff" stroke="#000" stroke-width="1.4" stroke-linejoin="miter"/>
<path d="M419.95 199.24L423.05 205.64L416.85 205.64Z" fill="#fff" stroke="#000" stroke-width="1.4" stroke-linejoin="miter"/>
<path d="M429.65 198.79L432.75 205.19L426.55 205.19Z" fill="#fff" stroke="#000" stroke-width="1.4" stroke-linejoin="miter"/>
<path d="M439.35 198.35L442.45 204.75L436.25 204.75Z" fill="#fff" stroke="#000" stroke-width="1.4" stroke-linejoin="miter"/>
<path d="M449.05 198.35L452.15 204.75L445.95 204.75Z" fill="#fff" stroke="#000" stroke-width="1.4" stroke-linejoin="miter"/>
<path d="M458.75 197.90L461.85 204.30L455.65 204.30Z" fill="#fff" stroke="#000" stroke-width="1.4" stroke-linejoin="miter"/>
<path d="M468.45 197.90L471.55 204.30L465.35 204.30Z" fill="#fff" stroke="#000" stroke-width="1.4" stroke-linejoin="miter"/>
<path d="M478.15 197.90L481.25 204.30L475.05 204.30Z" fill="#fff" stroke="#000" stroke-width="1.4" stroke-linejoin="miter"/>
<path d="M495.12 197.90L498.23 204.30L492.02 204.30Z" fill="#fff" stroke="#000" stroke-width="1.4" stroke-linejoin="miter"/>
<path d="M519.38 197.90L522.48 204.30L516.27 204.30Z" fill="#fff" stroke="#000" stroke-width="1.4" stroke-linejoin="miter"/>
<path d="M543.62 197.90L546.73 204.30L540.52 204.30Z" fill="#fff" stroke="#000" stroke-width="1.4" stroke-linejoin="miter"/>
<path d="M567.88 197.90L570.98 204.30L564.77 204.30Z" fill="#fff" stroke="#000" stroke-width="1.4" stroke-linejoin="miter"/>
<path d="M592.12 197.90L595.23 204.30L589.02 204.30Z" fill="#fff" stroke="#000" stroke-width="1.4" stroke-linejoin="miter"/>
<path d="M616.38 197.45L619.48 203.85L613.27 203.85Z" fill="#fff" stroke="#000" stroke-width="1.4" stroke-linejoin="miter"/>
<path d="M640.62 197.45L643.73 203.85L637.52 203.85Z" fill="#fff" stroke="#000" stroke-width="1.4" stroke-linejoin="miter"/>
<path d="M664.88 197.01L667.98 203.41L661.77 203.41Z" fill="#fff" stroke="#000" stroke-width="1.4" stroke-linejoin="miter"/>
<rect x="385.07" y="197.95" width="6.7" height="6.7" fill="#fff" stroke="#000" stroke-width="1.4"/>
<rect x="389.92" y="193.93" width="6.7" height="6.7" fill="#fff" stroke="#000" stroke-width="1.4"/>
<rect x="394.77" y="195.72" width="6.7" height="6.7" fill="#fff" stroke="#000" stroke-width="1.4"/>
<rect x="399.62" y="197.95" width="6.7" height="6.7" fill="#fff" stroke="#000" stroke-width="1.4"/>
<rect x="406.90" y="199.29" width="6.7" height="6.7" fill="#fff" stroke="#000" stroke-width="1.4"/>
<rect x="416.60" y="201.08" width="6.7" height="6.7" fill="#fff" stroke="#000" stroke-width="1.4"/>
<rect x="426.30" y="202.42" width="6.7" height="6.7" fill="#fff" stroke="#000" stroke-width="1.4"/>
<rect x="436.00" y="203.31" width="6.7" height="6.7" fill="#fff" stroke="#000" stroke-width="1.4"/>
<rect x="445.70" y="204.21" width="6.7" height="6.7" fill="#fff" stroke="#000" stroke-width="1.4"/>
<rect x="455.40" y="204.65" width="6.7" height="6.7" fill="#fff" stroke="#000" stroke-width="1.4"/>
<rect x="465.10" y="205.10" width="6.7" height="6.7" fill="#fff" stroke="#000" stroke-width="1.4"/>
<rect x="474.80" y="205.55" width="6.7" height="6.7" fill="#fff" stroke="#000" stroke-width="1.4"/>
<rect x="491.77" y="206.44" width="6.7" height="6.7" fill="#fff" stroke="#000" stroke-width="1.4"/>
<rect x="516.02" y="206.89" width="6.7" height="6.7" fill="#fff" stroke="#000" stroke-width="1.4"/>
<rect x="540.27" y="207.33" width="6.7" height="6.7" fill="#fff" stroke="#000" stroke-width="1.4"/>
<rect x="564.52" y="207.33" width="6.7" height="6.7" fill="#fff" stroke="#000" stroke-width="1.4"/>
<rect x="588.77" y="207.33" width="6.7" height="6.7" fill="#fff" stroke="#000" stroke-width="1.4"/>
<rect x="613.02" y="207.33" width="6.7" height="6.7" fill="#fff" stroke="#000" stroke-width="1.4"/>
<rect x="637.27" y="207.33" width="6.7" height="6.7" fill="#fff" stroke="#000" stroke-width="1.4"/>
<rect x="661.52" y="207.33" width="6.7" height="6.7" fill="#fff" stroke="#000" stroke-width="1.4"/>
<rect x="384.12" y="216.21" width="8.60" height="8.60" fill="#fff"/><path d="M384.12 216.21L392.73 224.81M392.73 216.21L384.12 224.81M388.43 216.21L388.43 224.81" fill="none" stroke="#000" stroke-width="1.2"/>
<rect x="388.97" y="205.94" width="8.60" height="8.60" fill="#fff"/><path d="M388.97 205.94L397.57 214.54M397.57 205.94L388.97 214.54M393.27 205.94L393.27 214.54" fill="none" stroke="#000" stroke-width="1.2"/>
<rect x="393.82" y="205.94" width="8.60" height="8.60" fill="#fff"/><path d="M393.82 205.94L402.43 214.54M402.43 205.94L393.82 214.54M398.12 205.94L398.12 214.54" fill="none" stroke="#000" stroke-width="1.2"/>
<rect x="398.68" y="205.04" width="8.60" height="8.60" fill="#fff"/><path d="M398.68 205.04L407.28 213.64M407.28 205.04L398.68 213.64M402.98 205.04L402.98 213.64" fill="none" stroke="#000" stroke-width="1.2"/>
<rect x="405.95" y="204.15" width="8.60" height="8.60" fill="#fff"/><path d="M405.95 204.15L414.55 212.75M414.55 204.15L405.95 212.75M410.25 204.15L410.25 212.75" fill="none" stroke="#000" stroke-width="1.2"/>
<rect x="415.65" y="203.26" width="8.60" height="8.60" fill="#fff"/><path d="M415.65 203.26L424.25 211.86M424.25 203.26L415.65 211.86M419.95 203.26L419.95 211.86" fill="none" stroke="#000" stroke-width="1.2"/>
<rect x="425.35" y="202.36" width="8.60" height="8.60" fill="#fff"/><path d="M425.35 202.36L433.95 210.96M433.95 202.36L425.35 210.96M429.65 202.36L429.65 210.96" fill="none" stroke="#000" stroke-width="1.2"/>
<rect x="435.05" y="201.92" width="8.60" height="8.60" fill="#fff"/><path d="M435.05 201.92L443.65 210.52M443.65 201.92L435.05 210.52M439.35 201.92L439.35 210.52" fill="none" stroke="#000" stroke-width="1.2"/>
<rect x="444.75" y="201.47" width="8.60" height="8.60" fill="#fff"/><path d="M444.75 201.47L453.35 210.07M453.35 201.47L444.75 210.07M449.05 201.47L449.05 210.07" fill="none" stroke="#000" stroke-width="1.2"/>
<rect x="454.45" y="201.47" width="8.60" height="8.60" fill="#fff"/><path d="M454.45 201.47L463.05 210.07M463.05 201.47L454.45 210.07M458.75 201.47L458.75 210.07" fill="none" stroke="#000" stroke-width="1.2"/>
<rect x="464.15" y="201.02" width="8.60" height="8.60" fill="#fff"/><path d="M464.15 201.02L472.75 209.62M472.75 201.02L464.15 209.62M468.45 201.02L468.45 209.62" fill="none" stroke="#000" stroke-width="1.2"/>
<rect x="473.85" y="201.02" width="8.60" height="8.60" fill="#fff"/><path d="M473.85 201.02L482.45 209.62M482.45 201.02L473.85 209.62M478.15 201.02L478.15 209.62" fill="none" stroke="#000" stroke-width="1.2"/>
<rect x="490.82" y="201.02" width="8.60" height="8.60" fill="#fff"/><path d="M490.82 201.02L499.43 209.62M499.43 201.02L490.82 209.62M495.12 201.02L495.12 209.62" fill="none" stroke="#000" stroke-width="1.2"/>
<rect x="515.08" y="201.02" width="8.60" height="8.60" fill="#fff"/><path d="M515.08 201.02L523.67 209.62M523.67 201.02L515.08 209.62M519.38 201.02L519.38 209.62" fill="none" stroke="#000" stroke-width="1.2"/>
<rect x="539.33" y="201.02" width="8.60" height="8.60" fill="#fff"/><path d="M539.33 201.02L547.92 209.62M547.92 201.02L539.33 209.62M543.62 201.02L543.62 209.62" fill="none" stroke="#000" stroke-width="1.2"/>
<rect x="563.58" y="201.02" width="8.60" height="8.60" fill="#fff"/><path d="M563.58 201.02L572.17 209.62M572.17 201.02L563.58 209.62M567.88 201.02L567.88 209.62" fill="none" stroke="#000" stroke-width="1.2"/>
<rect x="587.83" y="201.02" width="8.60" height="8.60" fill="#fff"/><path d="M587.83 201.02L596.42 209.62M596.42 201.02L587.83 209.62M592.12 201.02L592.12 209.62" fill="none" stroke="#000" stroke-width="1.2"/>
<rect x="612.08" y="201.02" width="8.60" height="8.60" fill="#fff"/><path d="M612.08 201.02L620.67 209.62M620.67 201.02L612.08 209.62M616.38 201.02L616.38 209.62" fill="none" stroke="#000" stroke-width="1.2"/>
<rect x="636.33" y="201.02" width="8.60" height="8.60" fill="#fff"/><path d="M636.33 201.02L644.92 209.62M644.92 201.02L636.33 209.62M640.62 201.02L640.62 209.62" fill="none" stroke="#000" stroke-width="1.2"/>
<rect x="660.58" y="200.58" width="8.60" height="8.60" fill="#fff"/><path d="M660.58 200.58L669.17 209.18M669.17 200.58L660.58 209.18M664.88 200.58L664.88 209.18" fill="none" stroke="#000" stroke-width="1.2"/>
<path d="M388.43 212.94L391.62 216.49L388.43 220.04L385.23 216.49Z" fill="#fff" stroke="#000" stroke-width="1.4"/>
<path d="M393.27 212.94L396.47 216.49L393.27 220.04L390.07 216.49Z" fill="#fff" stroke="#000" stroke-width="1.4"/>
<path d="M398.12 212.94L401.32 216.49L398.12 220.04L394.93 216.49Z" fill="#fff" stroke="#000" stroke-width="1.4"/>
<path d="M402.98 211.60L406.18 215.15L402.98 218.70L399.78 215.15Z" fill="#fff" stroke="#000" stroke-width="1.4"/>
<path d="M410.25 210.26L413.45 213.81L410.25 217.36L407.05 213.81Z" fill="#fff" stroke="#000" stroke-width="1.4"/>
<path d="M419.95 209.81L423.15 213.36L419.95 216.91L416.75 213.36Z" fill="#fff" stroke="#000" stroke-width="1.4"/>
<path d="M429.65 208.92L432.85 212.47L429.65 216.02L426.45 212.47Z" fill="#fff" stroke="#000" stroke-width="1.4"/>
<path d="M439.35 208.47L442.55 212.02L439.35 215.57L436.15 212.02Z" fill="#fff" stroke="#000" stroke-width="1.4"/>
<path d="M449.05 208.03L452.25 211.58L449.05 215.13L445.85 211.58Z" fill="#fff" stroke="#000" stroke-width="1.4"/>
<path d="M458.75 207.58L461.95 211.13L458.75 214.68L455.55 211.13Z" fill="#fff" stroke="#000" stroke-width="1.4"/>
<path d="M468.45 207.13L471.65 210.68L468.45 214.23L465.25 210.68Z" fill="#fff" stroke="#000" stroke-width="1.4"/>
<path d="M478.15 206.69L481.35 210.24L478.15 213.79L474.95 210.24Z" fill="#fff" stroke="#000" stroke-width="1.4"/>
<path d="M495.12 206.24L498.32 209.79L495.12 213.34L491.93 209.79Z" fill="#fff" stroke="#000" stroke-width="1.4"/>
<path d="M519.38 206.24L522.58 209.79L519.38 213.34L516.17 209.79Z" fill="#fff" stroke="#000" stroke-width="1.4"/>
<path d="M543.62 206.24L546.83 209.79L543.62 213.34L540.42 209.79Z" fill="#fff" stroke="#000" stroke-width="1.4"/>
<path d="M567.88 206.24L571.08 209.79L567.88 213.34L564.67 209.79Z" fill="#fff" stroke="#000" stroke-width="1.4"/>
<path d="M592.12 206.24L595.33 209.79L592.12 213.34L588.92 209.79Z" fill="#fff" stroke="#000" stroke-width="1.4"/>
<path d="M616.38 205.79L619.58 209.34L616.38 212.89L613.17 209.34Z" fill="#fff" stroke="#000" stroke-width="1.4"/>
<path d="M640.62 205.79L643.83 209.34L640.62 212.89L637.42 209.34Z" fill="#fff" stroke="#000" stroke-width="1.4"/>
<path d="M664.88 205.35L668.08 208.90L664.88 212.45L661.67 208.90Z" fill="#fff" stroke="#000" stroke-width="1.4"/>
<path d="M479.3 36.70H507.0" stroke="#000" stroke-width="1.4"/>
<circle cx="493.35" cy="37.20" r="3.55" fill="#fff" stroke="#000" stroke-width="1.4"/>
<text x="509.90" y="41.60" font-size="13.8" textLength="49.50" lengthAdjust="spacingAndGlyphs">Pancreas</text>
<path d="M479.3 52.50H507.0" stroke="#000" stroke-width="1.4"/>
<path d="M493.35 49.60L496.45 56.00L490.25 56.00Z" fill="#fff" stroke="#000" stroke-width="1.4" stroke-linejoin="miter"/>
<text x="509.33" y="56.90" font-size="13.8" textLength="39.28" lengthAdjust="spacingAndGlyphs">Spleen</text>
<path d="M479.3 68.00H507.0" stroke="#000" stroke-width="1.4"/>
<rect x="489.60" y="64.75" width="7.5" height="7.5" fill="#fff" stroke="#000" stroke-width="1.4"/>
<text x="509.80" y="72.70" font-size="13.8" textLength="48.09" lengthAdjust="spacingAndGlyphs">Intestine</text>
<path d="M479.3 83.40H507.0" stroke="#000" stroke-width="1.4"/>
<rect x="489.45" y="80.20" width="7.80" height="7.40" fill="#fff"/><path d="M489.45 80.20L497.25 87.60M497.25 80.20L489.45 87.60M493.35 80.20L493.35 87.60" fill="none" stroke="#000" stroke-width="1.2"/>
<text x="509.90" y="88.10" font-size="13.8" textLength="40.68" lengthAdjust="spacingAndGlyphs">Muscle</text>
<path d="M479.3 99.20H507.0" stroke="#000" stroke-width="1.4"/>
<path d="M493.35 96.70L496.35 99.70L493.35 102.70L490.35 99.70Z" fill="#fff" stroke="#000" stroke-width="1.4"/>
<text x="509.90" y="103.70" font-size="13.8" textLength="31.22" lengthAdjust="spacingAndGlyphs">Brain</text>
<path d="M32.3 360.9V539.5H322.7" fill="none" stroke="#000" stroke-width="1.4"/>
<path d="M27.70 539.50H32.3" stroke="#000" stroke-width="1.4"/>
<text x="19.50" y="543.20" font-size="13.5" text-anchor="end" textLength="6.28" lengthAdjust="spacingAndGlyphs">0</text>
<path d="M27.70 494.85H32.3" stroke="#000" stroke-width="1.4"/>
<text x="19.50" y="498.55" font-size="13.5" text-anchor="end" textLength="6.28" lengthAdjust="spacingAndGlyphs">2</text>
<path d="M27.70 450.20H32.3" stroke="#000" stroke-width="1.4"/>
<text x="19.50" y="453.90" font-size="13.5" text-anchor="end" textLength="6.28" lengthAdjust="spacingAndGlyphs">4</text>
<path d="M27.70 405.55H32.3" stroke="#000" stroke-width="1.4"/>
<text x="19.50" y="409.25" font-size="13.5" text-anchor="end" textLength="6.28" lengthAdjust="spacingAndGlyphs">6</text>
<path d="M27.70 360.90H32.3" stroke="#000" stroke-width="1.4"/>
<text x="19.50" y="364.60" font-size="13.5" text-anchor="end" textLength="6.28" lengthAdjust="spacingAndGlyphs">8</text>
<path d="M32.30 539.5V544.5" stroke="#000" stroke-width="1.4"/>
<text x="32.30" y="560.00" font-size="13.5" text-anchor="middle" textLength="6.28" lengthAdjust="spacingAndGlyphs">0</text>
<path d="M80.70 539.5V544.5" stroke="#000" stroke-width="1.4"/>
<text x="80.70" y="560.00" font-size="13.5" text-anchor="middle" textLength="12.56" lengthAdjust="spacingAndGlyphs">10</text>
<path d="M129.10 539.5V544.5" stroke="#000" stroke-width="1.4"/>
<text x="129.10" y="560.00" font-size="13.5" text-anchor="middle" textLength="12.56" lengthAdjust="spacingAndGlyphs">20</text>
<path d="M177.50 539.5V544.5" stroke="#000" stroke-width="1.4"/>
<text x="177.50" y="560.00" font-size="13.5" text-anchor="middle" textLength="12.56" lengthAdjust="spacingAndGlyphs">30</text>
<path d="M225.90 539.5V544.5" stroke="#000" stroke-width="1.4"/>
<text x="225.90" y="560.00" font-size="13.5" text-anchor="middle" textLength="12.56" lengthAdjust="spacingAndGlyphs">40</text>
<path d="M274.30 539.5V544.5" stroke="#000" stroke-width="1.4"/>
<text x="274.30" y="560.00" font-size="13.5" text-anchor="middle" textLength="12.56" lengthAdjust="spacingAndGlyphs">50</text>
<path d="M322.70 539.5V544.5" stroke="#000" stroke-width="1.4"/>
<text x="322.70" y="560.00" font-size="13.5" text-anchor="middle" textLength="12.56" lengthAdjust="spacingAndGlyphs">60</text>
<polyline points="34.72,494.40 39.56,513.83 44.40,516.73 49.24,518.29 56.50,519.41 66.18,520.30 75.86,520.97 85.54,521.64 95.22,522.09 104.90,522.53 114.58,522.98 124.26,523.43 141.20,524.32 165.40,525.66 189.60,526.77 213.80,527.67 238.00,528.34 262.20,529.01 286.40,529.45 310.60,529.68" fill="none" stroke="#000" stroke-width="1.3" stroke-linejoin="round"/>
<polyline points="34.72,483.91 39.56,507.13 44.40,510.48 49.24,512.71 56.50,514.50 66.18,515.84 75.86,516.73 85.54,517.40 95.22,518.07 104.90,518.74 114.58,519.41 124.26,520.08 141.20,521.19 165.40,522.76 189.60,524.10 213.80,525.21 238.00,526.11 262.20,526.77 286.40,527.22 310.60,527.44" fill="none" stroke="#000" stroke-width="1.3" stroke-linejoin="round"/>
<polyline points="34.72,510.48 39.56,520.52 44.40,522.31 49.24,523.87 56.50,525.21 66.18,525.88 75.86,526.55 85.54,527.22 95.22,527.44 104.90,527.67 114.58,527.89 124.26,528.11 141.20,528.56 165.40,529.23 189.60,529.68 213.80,530.12 238.00,530.57 262.20,530.79 286.40,531.02 310.60,531.02" fill="none" stroke="#000" stroke-width="1.3" stroke-linejoin="round"/>
<polyline points="34.72,504.90 39.56,502.66 44.40,504.23 49.24,505.57 56.50,507.58 66.18,510.03 75.86,511.37 85.54,513.16 95.22,514.27 104.90,515.39 114.58,516.51 124.26,517.17 141.20,519.41 165.40,521.19 189.60,522.31 213.80,523.20 238.00,523.87 262.20,524.54 286.40,525.21 310.60,525.66" fill="none" stroke="#000" stroke-width="1.3" stroke-linejoin="round"/>
<polyline points="34.72,472.97 39.56,429.44 44.40,412.25 49.24,405.55 56.50,403.99 66.18,410.46 75.86,419.84 85.54,429.44 95.22,438.81 104.90,445.74 114.58,452.43 124.26,458.46 141.20,466.50 165.40,475.20 189.60,482.79 213.80,487.26 238.00,491.05 262.20,494.85 286.40,497.31 310.60,499.09" fill="none" stroke="#000" stroke-width="1.3" stroke-linejoin="round"/>
<circle cx="34.72" cy="494.40" r="3.55" fill="#000" stroke="#000" stroke-width="1.4"/>
<circle cx="39.56" cy="513.83" r="3.55" fill="#000" stroke="#000" stroke-width="1.4"/>
<circle cx="44.40" cy="516.73" r="3.55" fill="#000" stroke="#000" stroke-width="1.4"/>
<circle cx="49.24" cy="518.29" r="3.55" fill="#000" stroke="#000" stroke-width="1.4"/>
<circle cx="56.50" cy="519.41" r="3.55" fill="#000" stroke="#000" stroke-width="1.4"/>
<circle cx="66.18" cy="520.30" r="3.55" fill="#000" stroke="#000" stroke-width="1.4"/>
<circle cx="75.86" cy="520.97" r="3.55" fill="#000" stroke="#000" stroke-width="1.4"/>
<circle cx="85.54" cy="521.64" r="3.55" fill="#000" stroke="#000" stroke-width="1.4"/>
<circle cx="95.22" cy="522.09" r="3.55" fill="#000" stroke="#000" stroke-width="1.4"/>
<circle cx="104.90" cy="522.53" r="3.55" fill="#000" stroke="#000" stroke-width="1.4"/>
<circle cx="114.58" cy="522.98" r="3.55" fill="#000" stroke="#000" stroke-width="1.4"/>
<circle cx="124.26" cy="523.43" r="3.55" fill="#000" stroke="#000" stroke-width="1.4"/>
<circle cx="141.20" cy="524.32" r="3.55" fill="#000" stroke="#000" stroke-width="1.4"/>
<circle cx="165.40" cy="525.66" r="3.55" fill="#000" stroke="#000" stroke-width="1.4"/>
<circle cx="189.60" cy="526.77" r="3.55" fill="#000" stroke="#000" stroke-width="1.4"/>
<circle cx="213.80" cy="527.67" r="3.55" fill="#000" stroke="#000" stroke-width="1.4"/>
<circle cx="238.00" cy="528.34" r="3.55" fill="#000" stroke="#000" stroke-width="1.4"/>
<circle cx="262.20" cy="529.01" r="3.55" fill="#000" stroke="#000" stroke-width="1.4"/>
<circle cx="286.40" cy="529.45" r="3.55" fill="#000" stroke="#000" stroke-width="1.4"/>
<circle cx="310.60" cy="529.68" r="3.55" fill="#000" stroke="#000" stroke-width="1.4"/>
<path d="M34.72 480.51L37.82 486.91L31.62 486.91Z" fill="#000" stroke="#000" stroke-width="1.4" stroke-linejoin="miter"/>
<path d="M39.56 503.73L42.66 510.13L36.46 510.13Z" fill="#000" stroke="#000" stroke-width="1.4" stroke-linejoin="miter"/>
<path d="M44.40 507.08L47.50 513.48L41.30 513.48Z" fill="#000" stroke="#000" stroke-width="1.4" stroke-linejoin="miter"/>
<path d="M49.24 509.31L52.34 515.71L46.14 515.71Z" fill="#000" stroke="#000" stroke-width="1.4" stroke-linejoin="miter"/>
<path d="M56.50 511.10L59.60 517.50L53.40 517.50Z" fill="#000" stroke="#000" stroke-width="1.4" stroke-linejoin="miter"/>
<path d="M66.18 512.44L69.28 518.84L63.08 518.84Z" fill="#000" stroke="#000" stroke-width="1.4" stroke-linejoin="miter"/>
<path d="M75.86 513.33L78.96 519.73L72.76 519.73Z" fill="#000" stroke="#000" stroke-width="1.4" stroke-linejoin="miter"/>
<path d="M85.54 514.00L88.64 520.40L82.44 520.40Z" fill="#000" stroke="#000" stroke-width="1.4" stroke-linejoin="miter"/>
<path d="M95.22 514.67L98.32 521.07L92.12 521.07Z" fill="#000" stroke="#000" stroke-width="1.4" stroke-linejoin="miter"/>
<path d="M104.90 515.34L108.00 521.74L101.80 521.74Z" fill="#000" stroke="#000" stroke-width="1.4" stroke-linejoin="miter"/>
<path d="M114.58 516.01L117.68 522.41L111.48 522.41Z" fill="#000" stroke="#000" stroke-width="1.4" stroke-linejoin="miter"/>
<path d="M124.26 516.68L127.36 523.08L121.16 523.08Z" fill="#000" stroke="#000" stroke-width="1.4" stroke-linejoin="miter"/>
<path d="M141.20 517.79L144.30 524.19L138.10 524.19Z" fill="#000" stroke="#000" stroke-width="1.4" stroke-linejoin="miter"/>
<path d="M165.40 519.36L168.50 525.76L162.30 525.76Z" fill="#000" stroke="#000" stroke-width="1.4" stroke-linejoin="miter"/>
<path d="M189.60 520.70L192.70 527.10L186.50 527.10Z" fill="#000" stroke="#000" stroke-width="1.4" stroke-linejoin="miter"/>
<path d="M213.80 521.81L216.90 528.21L210.70 528.21Z" fill="#000" stroke="#000" stroke-width="1.4" stroke-linejoin="miter"/>
<path d="M238.00 522.71L241.10 529.11L234.90 529.11Z" fill="#000" stroke="#000" stroke-width="1.4" stroke-linejoin="miter"/>
<path d="M262.20 523.37L265.30 529.77L259.10 529.77Z" fill="#000" stroke="#000" stroke-width="1.4" stroke-linejoin="miter"/>
<path d="M286.40 523.82L289.50 530.22L283.30 530.22Z" fill="#000" stroke="#000" stroke-width="1.4" stroke-linejoin="miter"/>
<path d="M310.60 524.04L313.70 530.44L307.50 530.44Z" fill="#000" stroke="#000" stroke-width="1.4" stroke-linejoin="miter"/>
<rect x="31.37" y="507.13" width="6.7" height="6.7" fill="#000" stroke="#000" stroke-width="1.4"/>
<rect x="36.21" y="517.17" width="6.7" height="6.7" fill="#000" stroke="#000" stroke-width="1.4"/>
<rect x="41.05" y="518.96" width="6.7" height="6.7" fill="#000" stroke="#000" stroke-width="1.4"/>
<rect x="45.89" y="520.52" width="6.7" height="6.7" fill="#000" stroke="#000" stroke-width="1.4"/>
<rect x="53.15" y="521.86" width="6.7" height="6.7" fill="#000" stroke="#000" stroke-width="1.4"/>
<rect x="62.83" y="522.53" width="6.7" height="6.7" fill="#000" stroke="#000" stroke-width="1.4"/>
<rect x="72.51" y="523.20" width="6.7" height="6.7" fill="#000" stroke="#000" stroke-width="1.4"/>
<rect x="82.19" y="523.87" width="6.7" height="6.7" fill="#000" stroke="#000" stroke-width="1.4"/>
<rect x="91.87" y="524.09" width="6.7" height="6.7" fill="#000" stroke="#000" stroke-width="1.4"/>
<rect x="101.55" y="524.32" width="6.7" height="6.7" fill="#000" stroke="#000" stroke-width="1.4"/>
<rect x="111.23" y="524.54" width="6.7" height="6.7" fill="#000" stroke="#000" stroke-width="1.4"/>
<rect x="120.91" y="524.76" width="6.7" height="6.7" fill="#000" stroke="#000" stroke-width="1.4"/>
<rect x="137.85" y="525.21" width="6.7" height="6.7" fill="#000" stroke="#000" stroke-width="1.4"/>
<rect x="162.05" y="525.88" width="6.7" height="6.7" fill="#000" stroke="#000" stroke-width="1.4"/>
<rect x="186.25" y="526.33" width="6.7" height="6.7" fill="#000" stroke="#000" stroke-width="1.4"/>
<rect x="210.45" y="526.77" width="6.7" height="6.7" fill="#000" stroke="#000" stroke-width="1.4"/>
<rect x="234.65" y="527.22" width="6.7" height="6.7" fill="#000" stroke="#000" stroke-width="1.4"/>
<rect x="258.85" y="527.44" width="6.7" height="6.7" fill="#000" stroke="#000" stroke-width="1.4"/>
<rect x="283.05" y="527.67" width="6.7" height="6.7" fill="#000" stroke="#000" stroke-width="1.4"/>
<rect x="307.25" y="527.67" width="6.7" height="6.7" fill="#000" stroke="#000" stroke-width="1.4"/>
<path d="M30.42 500.60L39.02 509.20M39.02 500.60L30.42 509.20M34.72 500.60L34.72 509.20" fill="none" stroke="#000" stroke-width="1.2"/>
<path d="M35.26 498.36L43.86 506.96M43.86 498.36L35.26 506.96M39.56 498.36L39.56 506.96" fill="none" stroke="#000" stroke-width="1.2"/>
<path d="M40.10 499.93L48.70 508.53M48.70 499.93L40.10 508.53M44.40 499.93L44.40 508.53" fill="none" stroke="#000" stroke-width="1.2"/>
<path d="M44.94 501.27L53.54 509.87M53.54 501.27L44.94 509.87M49.24 501.27L49.24 509.87" fill="none" stroke="#000" stroke-width="1.2"/>
<path d="M52.20 503.28L60.80 511.88M60.80 503.28L52.20 511.88M56.50 503.28L56.50 511.88" fill="none" stroke="#000" stroke-width="1.2"/>
<path d="M61.88 505.73L70.48 514.33M70.48 505.73L61.88 514.33M66.18 505.73L66.18 514.33" fill="none" stroke="#000" stroke-width="1.2"/>
<path d="M71.56 507.07L80.16 515.67M80.16 507.07L71.56 515.67M75.86 507.07L75.86 515.67" fill="none" stroke="#000" stroke-width="1.2"/>
<path d="M81.24 508.86L89.84 517.46M89.84 508.86L81.24 517.46M85.54 508.86L85.54 517.46" fill="none" stroke="#000" stroke-width="1.2"/>
<path d="M90.92 509.97L99.52 518.57M99.52 509.97L90.92 518.57M95.22 509.97L95.22 518.57" fill="none" stroke="#000" stroke-width="1.2"/>
<path d="M100.60 511.09L109.20 519.69M109.20 511.09L100.60 519.69M104.90 511.09L104.90 519.69" fill="none" stroke="#000" stroke-width="1.2"/>
<path d="M110.28 512.21L118.88 520.81M118.88 512.21L110.28 520.81M114.58 512.21L114.58 520.81" fill="none" stroke="#000" stroke-width="1.2"/>
<path d="M119.96 512.88L128.56 521.47M128.56 512.88L119.96 521.47M124.26 512.88L124.26 521.47" fill="none" stroke="#000" stroke-width="1.2"/>
<path d="M136.90 515.11L145.50 523.71M145.50 515.11L136.90 523.71M141.20 515.11L141.20 523.71" fill="none" stroke="#000" stroke-width="1.2"/>
<path d="M161.10 516.89L169.70 525.49M169.70 516.89L161.10 525.49M165.40 516.89L165.40 525.49" fill="none" stroke="#000" stroke-width="1.2"/>
<path d="M185.30 518.01L193.90 526.61M193.90 518.01L185.30 526.61M189.60 518.01L189.60 526.61" fill="none" stroke="#000" stroke-width="1.2"/>
<path d="M209.50 518.90L218.10 527.50M218.10 518.90L209.50 527.50M213.80 518.90L213.80 527.50" fill="none" stroke="#000" stroke-width="1.2"/>
<path d="M233.70 519.57L242.30 528.17M242.30 519.57L233.70 528.17M238.00 519.57L238.00 528.17" fill="none" stroke="#000" stroke-width="1.2"/>
<path d="M257.90 520.24L266.50 528.84M266.50 520.24L257.90 528.84M262.20 520.24L262.20 528.84" fill="none" stroke="#000" stroke-width="1.2"/>
<path d="M282.10 520.91L290.70 529.51M290.70 520.91L282.10 529.51M286.40 520.91L286.40 529.51" fill="none" stroke="#000" stroke-width="1.2"/>
<path d="M306.30 521.36L314.90 529.96M314.90 521.36L306.30 529.96M310.60 521.36L310.60 529.96" fill="none" stroke="#000" stroke-width="1.2"/>
<path d="M34.72 470.74V475.20M31.32 470.74H38.12M31.32 475.20H38.12" stroke="#000" stroke-width="1.4"/>
<path d="M39.56 420.95V437.92M36.16 420.95H42.96M36.16 437.92H42.96" stroke="#000" stroke-width="1.4"/>
<path d="M44.40 404.21V420.28M41.00 404.21H47.80M41.00 420.28H47.80" stroke="#000" stroke-width="1.4"/>
<path d="M49.24 396.62V414.48M45.84 396.62H52.64M45.84 414.48H52.64" stroke="#000" stroke-width="1.4"/>
<path d="M56.50 394.83V413.14M53.10 394.83H59.90M53.10 413.14H59.90" stroke="#000" stroke-width="1.4"/>
<path d="M66.18 401.08V419.84M62.78 401.08H69.58M62.78 419.84H69.58" stroke="#000" stroke-width="1.4"/>
<path d="M75.86 410.91V428.77M72.46 410.91H79.26M72.46 428.77H79.26" stroke="#000" stroke-width="1.4"/>
<path d="M85.54 420.51V438.37M82.14 420.51H88.94M82.14 438.37H88.94" stroke="#000" stroke-width="1.4"/>
<path d="M95.22 431.00V446.63M91.82 431.00H98.62M91.82 446.63H98.62" stroke="#000" stroke-width="1.4"/>
<path d="M104.90 438.37V453.10M101.50 438.37H108.30M101.50 453.10H108.30" stroke="#000" stroke-width="1.4"/>
<path d="M114.58 445.96V458.91M111.18 445.96H117.98M111.18 458.91H117.98" stroke="#000" stroke-width="1.4"/>
<path d="M124.26 452.88V464.04M120.86 452.88H127.66M120.86 464.04H127.66" stroke="#000" stroke-width="1.4"/>
<path d="M141.20 462.03V470.96M137.80 462.03H144.60M137.80 470.96H144.60" stroke="#000" stroke-width="1.4"/>
<path d="M165.40 471.63V478.78M162.00 471.63H168.80M162.00 478.78H168.80" stroke="#000" stroke-width="1.4"/>
<path d="M189.60 480.12V485.47M186.20 480.12H193.00M186.20 485.47H193.00" stroke="#000" stroke-width="1.4"/>
<path d="M213.80 485.03V489.49M210.40 485.03H217.20M210.40 489.49H217.20" stroke="#000" stroke-width="1.4"/>
<path d="M238.00 488.82V493.29M234.60 488.82H241.40M234.60 493.29H241.40" stroke="#000" stroke-width="1.4"/>
<path d="M262.20 492.84V496.86M258.80 492.84H265.60M258.80 496.86H265.60" stroke="#000" stroke-width="1.4"/>
<path d="M286.40 495.30V499.31M283.00 495.30H289.80M283.00 499.31H289.80" stroke="#000" stroke-width="1.4"/>
<path d="M310.60 497.31V500.88M307.20 497.31H314.00M307.20 500.88H314.00" stroke="#000" stroke-width="1.4"/>
<path d="M34.72 469.42L37.92 472.97L34.72 476.52L31.52 472.97Z" fill="#000" stroke="#000" stroke-width="1.4"/>
<path d="M39.56 425.89L42.76 429.44L39.56 432.99L36.36 429.44Z" fill="#000" stroke="#000" stroke-width="1.4"/>
<path d="M44.40 408.70L47.60 412.25L44.40 415.80L41.20 412.25Z" fill="#000" stroke="#000" stroke-width="1.4"/>
<path d="M49.24 402.00L52.44 405.55L49.24 409.10L46.04 405.55Z" fill="#000" stroke="#000" stroke-width="1.4"/>
<path d="M56.50 400.44L59.70 403.99L56.50 407.54L53.30 403.99Z" fill="#000" stroke="#000" stroke-width="1.4"/>
<path d="M66.18 406.91L69.38 410.46L66.18 414.01L62.98 410.46Z" fill="#000" stroke="#000" stroke-width="1.4"/>
<path d="M75.86 416.29L79.06 419.84L75.86 423.39L72.66 419.84Z" fill="#000" stroke="#000" stroke-width="1.4"/>
<path d="M85.54 425.89L88.74 429.44L85.54 432.99L82.34 429.44Z" fill="#000" stroke="#000" stroke-width="1.4"/>
<path d="M95.22 435.26L98.42 438.81L95.22 442.36L92.02 438.81Z" fill="#000" stroke="#000" stroke-width="1.4"/>
<path d="M104.90 442.19L108.10 445.74L104.90 449.29L101.70 445.74Z" fill="#000" stroke="#000" stroke-width="1.4"/>
<path d="M114.58 448.88L117.78 452.43L114.58 455.98L111.38 452.43Z" fill="#000" stroke="#000" stroke-width="1.4"/>
<path d="M124.26 454.91L127.46 458.46L124.26 462.01L121.06 458.46Z" fill="#000" stroke="#000" stroke-width="1.4"/>
<path d="M141.20 462.95L144.40 466.50L141.20 470.05L138.00 466.50Z" fill="#000" stroke="#000" stroke-width="1.4"/>
<path d="M165.40 471.65L168.60 475.20L165.40 478.75L162.20 475.20Z" fill="#000" stroke="#000" stroke-width="1.4"/>
<path d="M189.60 479.24L192.80 482.79L189.60 486.34L186.40 482.79Z" fill="#000" stroke="#000" stroke-width="1.4"/>
<path d="M213.80 483.71L217.00 487.26L213.80 490.81L210.60 487.26Z" fill="#000" stroke="#000" stroke-width="1.4"/>
<path d="M238.00 487.50L241.20 491.05L238.00 494.60L234.80 491.05Z" fill="#000" stroke="#000" stroke-width="1.4"/>
<path d="M262.20 491.30L265.40 494.85L262.20 498.40L259.00 494.85Z" fill="#000" stroke="#000" stroke-width="1.4"/>
<path d="M286.40 493.76L289.60 497.31L286.40 500.86L283.20 497.31Z" fill="#000" stroke="#000" stroke-width="1.4"/>
<path d="M310.60 495.54L313.80 499.09L310.60 502.64L307.40 499.09Z" fill="#000" stroke="#000" stroke-width="1.4"/>
<path d="M153.1 357.60H179.6" stroke="#000" stroke-width="1.4"/>
<circle cx="166.55" cy="357.60" r="3.35" fill="#000" stroke="#000" stroke-width="1.4"/>
<text x="181.49" y="361.20" font-size="13.8" textLength="35.19" lengthAdjust="spacingAndGlyphs">Blood</text>
<path d="M153.1 373.40H179.6" stroke="#000" stroke-width="1.4"/>
<path d="M166.55 370.00L169.65 376.40L163.45 376.40Z" fill="#000" stroke="#000" stroke-width="1.4" stroke-linejoin="miter"/>
<text x="181.49" y="376.60" font-size="13.8" textLength="31.59" lengthAdjust="spacingAndGlyphs">Heart</text>
<path d="M153.1 388.90H179.6" stroke="#000" stroke-width="1.4"/>
<rect x="163.10" y="385.45" width="6.9" height="6.9" fill="#000" stroke="#000" stroke-width="1.4"/>
<text x="181.50" y="392.20" font-size="13.8" textLength="29.57" lengthAdjust="spacingAndGlyphs">Lung</text>
<path d="M153.1 403.10H179.6" stroke="#000" stroke-width="1.4"/>
<path d="M162.15 398.70L170.95 407.50M170.95 398.70L162.15 407.50M166.55 398.70L166.55 407.50" fill="none" stroke="#000" stroke-width="1.2"/>
<text x="181.50" y="408.00" font-size="13.8" textLength="29.92" lengthAdjust="spacingAndGlyphs">Liver</text>
<path d="M153.1 419.00H179.6" stroke="#000" stroke-width="1.4"/>
<path d="M166.55 416.00L169.55 419.00L166.55 422.00L163.55 419.00Z" fill="#000" stroke="#000" stroke-width="1.4"/>
<text x="181.49" y="423.50" font-size="13.8" textLength="42.07" lengthAdjust="spacingAndGlyphs">Kidney</text>
<path d="M386.0 360.7V539.2H676.5" fill="none" stroke="#000" stroke-width="1.4"/>
<path d="M381.40 539.20H386.0" stroke="#000" stroke-width="1.4"/>
<text x="373.20" y="542.90" font-size="13.5" text-anchor="end" textLength="6.28" lengthAdjust="spacingAndGlyphs">0</text>
<path d="M381.40 494.58H386.0" stroke="#000" stroke-width="1.4"/>
<text x="373.20" y="498.28" font-size="13.5" text-anchor="end" textLength="6.28" lengthAdjust="spacingAndGlyphs">2</text>
<path d="M381.40 449.95H386.0" stroke="#000" stroke-width="1.4"/>
<text x="373.20" y="453.65" font-size="13.5" text-anchor="end" textLength="6.28" lengthAdjust="spacingAndGlyphs">4</text>
<path d="M381.40 405.32H386.0" stroke="#000" stroke-width="1.4"/>
<text x="373.20" y="409.02" font-size="13.5" text-anchor="end" textLength="6.28" lengthAdjust="spacingAndGlyphs">6</text>
<path d="M381.40 360.70H386.0" stroke="#000" stroke-width="1.4"/>
<text x="373.20" y="364.40" font-size="13.5" text-anchor="end" textLength="6.28" lengthAdjust="spacingAndGlyphs">8</text>
<path d="M386.00 539.2V544.2" stroke="#000" stroke-width="1.4"/>
<text x="386.00" y="559.70" font-size="13.5" text-anchor="middle" textLength="6.28" lengthAdjust="spacingAndGlyphs">0</text>
<path d="M434.42 539.2V544.2" stroke="#000" stroke-width="1.4"/>
<text x="434.42" y="559.70" font-size="13.5" text-anchor="middle" textLength="12.56" lengthAdjust="spacingAndGlyphs">10</text>
<path d="M482.83 539.2V544.2" stroke="#000" stroke-width="1.4"/>
<text x="482.83" y="559.70" font-size="13.5" text-anchor="middle" textLength="12.56" lengthAdjust="spacingAndGlyphs">20</text>
<path d="M531.25 539.2V544.2" stroke="#000" stroke-width="1.4"/>
<text x="531.25" y="559.70" font-size="13.5" text-anchor="middle" textLength="12.56" lengthAdjust="spacingAndGlyphs">30</text>
<path d="M579.67 539.2V544.2" stroke="#000" stroke-width="1.4"/>
<text x="579.67" y="559.70" font-size="13.5" text-anchor="middle" textLength="12.56" lengthAdjust="spacingAndGlyphs">40</text>
<path d="M628.08 539.2V544.2" stroke="#000" stroke-width="1.4"/>
<text x="628.08" y="559.70" font-size="13.5" text-anchor="middle" textLength="12.56" lengthAdjust="spacingAndGlyphs">50</text>
<path d="M676.50 539.2V544.2" stroke="#000" stroke-width="1.4"/>
<text x="676.50" y="559.70" font-size="13.5" text-anchor="middle" textLength="12.56" lengthAdjust="spacingAndGlyphs">60</text>
<polyline points="388.42,521.35 393.26,520.46 398.10,520.68 402.95,521.13 410.21,521.57 419.89,522.02 429.57,522.24 439.26,522.47 448.94,522.69 458.62,522.91 468.31,523.13 477.99,523.36 494.94,523.58 519.15,523.80 543.35,524.03 567.56,524.25 591.77,524.47 615.98,524.47 640.19,524.47 664.40,524.47" fill="none" stroke="#000" stroke-width="1.3" stroke-linejoin="round"/>
<polyline points="388.42,526.93 393.26,528.04 398.10,528.49 402.95,528.71 410.21,528.94 419.89,529.16 429.57,529.16 439.26,529.16 448.94,529.38 458.62,529.38 468.31,529.38 477.99,529.38 494.94,529.38 519.15,529.38 543.35,529.38 567.56,529.38 591.77,529.38 615.98,529.38 640.19,529.38 664.40,529.38" fill="none" stroke="#000" stroke-width="1.3" stroke-linejoin="round"/>
<polyline points="388.42,523.58 393.26,524.03 398.10,524.47 402.95,524.92 410.21,525.37 419.89,525.81 429.57,525.81 439.26,526.04 448.94,526.26 458.62,526.26 468.31,526.26 477.99,526.48 494.94,526.48 519.15,526.48 543.35,526.48 567.56,526.48 591.77,526.48 615.98,526.48 640.19,526.48 664.40,526.48" fill="none" stroke="#000" stroke-width="1.3" stroke-linejoin="round"/>
<polyline points="388.42,534.74 393.26,532.95 398.10,532.51 402.95,532.51 410.21,532.51 419.89,532.51 429.57,532.51 439.26,532.51 448.94,532.51 458.62,532.51 468.31,532.51 477.99,532.51 494.94,532.51 519.15,532.51 543.35,532.51 567.56,532.51 591.77,532.51 615.98,532.51 640.19,532.51 664.40,532.51" fill="none" stroke="#000" stroke-width="1.3" stroke-linejoin="round"/>
<polyline points="388.42,536.97 393.26,536.52 398.10,536.30 402.95,536.08 410.21,535.85 419.89,535.85 429.57,535.63 439.26,535.63 448.94,535.63 458.62,535.41 468.31,535.41 477.99,535.41 494.94,535.41 519.15,535.41 543.35,535.41 567.56,535.41 591.77,535.41 615.98,535.41 640.19,535.41 664.40,535.41" fill="none" stroke="#000" stroke-width="1.3" stroke-linejoin="round"/>
<circle cx="388.42" cy="521.35" r="3.55" fill="#000" stroke="#000" stroke-width="1.4"/>
<circle cx="393.26" cy="520.46" r="3.55" fill="#000" stroke="#000" stroke-width="1.4"/>
<circle cx="398.10" cy="520.68" r="3.55" fill="#000" stroke="#000" stroke-width="1.4"/>
<circle cx="402.95" cy="521.13" r="3.55" fill="#000" stroke="#000" stroke-width="1.4"/>
<circle cx="410.21" cy="521.57" r="3.55" fill="#000" stroke="#000" stroke-width="1.4"/>
<circle cx="419.89" cy="522.02" r="3.55" fill="#000" stroke="#000" stroke-width="1.4"/>
<circle cx="429.57" cy="522.24" r="3.55" fill="#000" stroke="#000" stroke-width="1.4"/>
<circle cx="439.26" cy="522.47" r="3.55" fill="#000" stroke="#000" stroke-width="1.4"/>
<circle cx="448.94" cy="522.69" r="3.55" fill="#000" stroke="#000" stroke-width="1.4"/>
<circle cx="458.62" cy="522.91" r="3.55" fill="#000" stroke="#000" stroke-width="1.4"/>
<circle cx="468.31" cy="523.13" r="3.55" fill="#000" stroke="#000" stroke-width="1.4"/>
<circle cx="477.99" cy="523.36" r="3.55" fill="#000" stroke="#000" stroke-width="1.4"/>
<circle cx="494.94" cy="523.58" r="3.55" fill="#000" stroke="#000" stroke-width="1.4"/>
<circle cx="519.15" cy="523.80" r="3.55" fill="#000" stroke="#000" stroke-width="1.4"/>
<circle cx="543.35" cy="524.03" r="3.55" fill="#000" stroke="#000" stroke-width="1.4"/>
<circle cx="567.56" cy="524.25" r="3.55" fill="#000" stroke="#000" stroke-width="1.4"/>
<circle cx="591.77" cy="524.47" r="3.55" fill="#000" stroke="#000" stroke-width="1.4"/>
<circle cx="615.98" cy="524.47" r="3.55" fill="#000" stroke="#000" stroke-width="1.4"/>
<circle cx="640.19" cy="524.47" r="3.55" fill="#000" stroke="#000" stroke-width="1.4"/>
<circle cx="664.40" cy="524.47" r="3.55" fill="#000" stroke="#000" stroke-width="1.4"/>
<path d="M388.42 523.53L391.52 529.93L385.32 529.93Z" fill="#000" stroke="#000" stroke-width="1.4" stroke-linejoin="miter"/>
<path d="M393.26 524.64L396.36 531.04L390.16 531.04Z" fill="#000" stroke="#000" stroke-width="1.4" stroke-linejoin="miter"/>
<path d="M398.10 525.09L401.20 531.49L395.00 531.49Z" fill="#000" stroke="#000" stroke-width="1.4" stroke-linejoin="miter"/>
<path d="M402.95 525.31L406.05 531.71L399.85 531.71Z" fill="#000" stroke="#000" stroke-width="1.4" stroke-linejoin="miter"/>
<path d="M410.21 525.54L413.31 531.94L407.11 531.94Z" fill="#000" stroke="#000" stroke-width="1.4" stroke-linejoin="miter"/>
<path d="M419.89 525.76L422.99 532.16L416.79 532.16Z" fill="#000" stroke="#000" stroke-width="1.4" stroke-linejoin="miter"/>
<path d="M429.57 525.76L432.68 532.16L426.47 532.16Z" fill="#000" stroke="#000" stroke-width="1.4" stroke-linejoin="miter"/>
<path d="M439.26 525.76L442.36 532.16L436.16 532.16Z" fill="#000" stroke="#000" stroke-width="1.4" stroke-linejoin="miter"/>
<path d="M448.94 525.98L452.04 532.38L445.84 532.38Z" fill="#000" stroke="#000" stroke-width="1.4" stroke-linejoin="miter"/>
<path d="M458.62 525.98L461.73 532.38L455.52 532.38Z" fill="#000" stroke="#000" stroke-width="1.4" stroke-linejoin="miter"/>
<path d="M468.31 525.98L471.41 532.38L465.21 532.38Z" fill="#000" stroke="#000" stroke-width="1.4" stroke-linejoin="miter"/>
<path d="M477.99 525.98L481.09 532.38L474.89 532.38Z" fill="#000" stroke="#000" stroke-width="1.4" stroke-linejoin="miter"/>
<path d="M494.94 525.98L498.04 532.38L491.84 532.38Z" fill="#000" stroke="#000" stroke-width="1.4" stroke-linejoin="miter"/>
<path d="M519.15 525.98L522.25 532.38L516.05 532.38Z" fill="#000" stroke="#000" stroke-width="1.4" stroke-linejoin="miter"/>
<path d="M543.35 525.98L546.45 532.38L540.25 532.38Z" fill="#000" stroke="#000" stroke-width="1.4" stroke-linejoin="miter"/>
<path d="M567.56 525.98L570.66 532.38L564.46 532.38Z" fill="#000" stroke="#000" stroke-width="1.4" stroke-linejoin="miter"/>
<path d="M591.77 525.98L594.87 532.38L588.67 532.38Z" fill="#000" stroke="#000" stroke-width="1.4" stroke-linejoin="miter"/>
<path d="M615.98 525.98L619.08 532.38L612.88 532.38Z" fill="#000" stroke="#000" stroke-width="1.4" stroke-linejoin="miter"/>
<path d="M640.19 525.98L643.29 532.38L637.09 532.38Z" fill="#000" stroke="#000" stroke-width="1.4" stroke-linejoin="miter"/>
<path d="M664.40 525.98L667.50 532.38L661.30 532.38Z" fill="#000" stroke="#000" stroke-width="1.4" stroke-linejoin="miter"/>
<rect x="385.07" y="520.23" width="6.7" height="6.7" fill="#000" stroke="#000" stroke-width="1.4"/>
<rect x="389.91" y="520.68" width="6.7" height="6.7" fill="#000" stroke="#000" stroke-width="1.4"/>
<rect x="394.75" y="521.12" width="6.7" height="6.7" fill="#000" stroke="#000" stroke-width="1.4"/>
<rect x="399.60" y="521.57" width="6.7" height="6.7" fill="#000" stroke="#000" stroke-width="1.4"/>
<rect x="406.86" y="522.02" width="6.7" height="6.7" fill="#000" stroke="#000" stroke-width="1.4"/>
<rect x="416.54" y="522.46" width="6.7" height="6.7" fill="#000" stroke="#000" stroke-width="1.4"/>
<rect x="426.22" y="522.46" width="6.7" height="6.7" fill="#000" stroke="#000" stroke-width="1.4"/>
<rect x="435.91" y="522.69" width="6.7" height="6.7" fill="#000" stroke="#000" stroke-width="1.4"/>
<rect x="445.59" y="522.91" width="6.7" height="6.7" fill="#000" stroke="#000" stroke-width="1.4"/>
<rect x="455.27" y="522.91" width="6.7" height="6.7" fill="#000" stroke="#000" stroke-width="1.4"/>
<rect x="464.96" y="522.91" width="6.7" height="6.7" fill="#000" stroke="#000" stroke-width="1.4"/>
<rect x="474.64" y="523.13" width="6.7" height="6.7" fill="#000" stroke="#000" stroke-width="1.4"/>
<rect x="491.59" y="523.13" width="6.7" height="6.7" fill="#000" stroke="#000" stroke-width="1.4"/>
<rect x="515.80" y="523.13" width="6.7" height="6.7" fill="#000" stroke="#000" stroke-width="1.4"/>
<rect x="540.00" y="523.13" width="6.7" height="6.7" fill="#000" stroke="#000" stroke-width="1.4"/>
<rect x="564.21" y="523.13" width="6.7" height="6.7" fill="#000" stroke="#000" stroke-width="1.4"/>
<rect x="588.42" y="523.13" width="6.7" height="6.7" fill="#000" stroke="#000" stroke-width="1.4"/>
<rect x="612.63" y="523.13" width="6.7" height="6.7" fill="#000" stroke="#000" stroke-width="1.4"/>
<rect x="636.84" y="523.13" width="6.7" height="6.7" fill="#000" stroke="#000" stroke-width="1.4"/>
<rect x="661.05" y="523.13" width="6.7" height="6.7" fill="#000" stroke="#000" stroke-width="1.4"/>
<path d="M384.12 530.44L392.72 539.04M392.72 530.44L384.12 539.04M388.42 530.44L388.42 539.04" fill="none" stroke="#000" stroke-width="1.2"/>
<path d="M388.96 528.65L397.56 537.25M397.56 528.65L388.96 537.25M393.26 528.65L393.26 537.25" fill="none" stroke="#000" stroke-width="1.2"/>
<path d="M393.80 528.21L402.40 536.81M402.40 528.21L393.80 536.81M398.10 528.21L398.10 536.81" fill="none" stroke="#000" stroke-width="1.2"/>
<path d="M398.65 528.21L407.25 536.81M407.25 528.21L398.65 536.81M402.95 528.21L402.95 536.81" fill="none" stroke="#000" stroke-width="1.2"/>
<path d="M405.91 528.21L414.51 536.81M414.51 528.21L405.91 536.81M410.21 528.21L410.21 536.81" fill="none" stroke="#000" stroke-width="1.2"/>
<path d="M415.59 528.21L424.19 536.81M424.19 528.21L415.59 536.81M419.89 528.21L419.89 536.81" fill="none" stroke="#000" stroke-width="1.2"/>
<path d="M425.27 528.21L433.88 536.81M433.88 528.21L425.27 536.81M429.57 528.21L429.57 536.81" fill="none" stroke="#000" stroke-width="1.2"/>
<path d="M434.96 528.21L443.56 536.81M443.56 528.21L434.96 536.81M439.26 528.21L439.26 536.81" fill="none" stroke="#000" stroke-width="1.2"/>
<path d="M444.64 528.21L453.24 536.81M453.24 528.21L444.64 536.81M448.94 528.21L448.94 536.81" fill="none" stroke="#000" stroke-width="1.2"/>
<path d="M454.32 528.21L462.93 536.81M462.93 528.21L454.32 536.81M458.62 528.21L458.62 536.81" fill="none" stroke="#000" stroke-width="1.2"/>
<path d="M464.01 528.21L472.61 536.81M472.61 528.21L464.01 536.81M468.31 528.21L468.31 536.81" fill="none" stroke="#000" stroke-width="1.2"/>
<path d="M473.69 528.21L482.29 536.81M482.29 528.21L473.69 536.81M477.99 528.21L477.99 536.81" fill="none" stroke="#000" stroke-width="1.2"/>
<path d="M490.64 528.21L499.24 536.81M499.24 528.21L490.64 536.81M494.94 528.21L494.94 536.81" fill="none" stroke="#000" stroke-width="1.2"/>
<path d="M514.85 528.21L523.45 536.81M523.45 528.21L514.85 536.81M519.15 528.21L519.15 536.81" fill="none" stroke="#000" stroke-width="1.2"/>
<path d="M539.05 528.21L547.65 536.81M547.65 528.21L539.05 536.81M543.35 528.21L543.35 536.81" fill="none" stroke="#000" stroke-width="1.2"/>
<path d="M563.26 528.21L571.86 536.81M571.86 528.21L563.26 536.81M567.56 528.21L567.56 536.81" fill="none" stroke="#000" stroke-width="1.2"/>
<path d="M587.47 528.21L596.07 536.81M596.07 528.21L587.47 536.81M591.77 528.21L591.77 536.81" fill="none" stroke="#000" stroke-width="1.2"/>
<path d="M611.68 528.21L620.28 536.81M620.28 528.21L611.68 536.81M615.98 528.21L615.98 536.81" fill="none" stroke="#000" stroke-width="1.2"/>
<path d="M635.89 528.21L644.49 536.81M644.49 528.21L635.89 536.81M640.19 528.21L640.19 536.81" fill="none" stroke="#000" stroke-width="1.2"/>
<path d="M660.10 528.21L668.70 536.81M668.70 528.21L660.10 536.81M664.40 528.21L664.40 536.81" fill="none" stroke="#000" stroke-width="1.2"/>
<path d="M388.42 533.42L391.62 536.97L388.42 540.52L385.22 536.97Z" fill="#000" stroke="#000" stroke-width="1.4"/>
<path d="M393.26 532.97L396.46 536.52L393.26 540.07L390.06 536.52Z" fill="#000" stroke="#000" stroke-width="1.4"/>
<path d="M398.10 532.75L401.30 536.30L398.10 539.85L394.90 536.30Z" fill="#000" stroke="#000" stroke-width="1.4"/>
<path d="M402.95 532.53L406.15 536.08L402.95 539.63L399.75 536.08Z" fill="#000" stroke="#000" stroke-width="1.4"/>
<path d="M410.21 532.30L413.41 535.85L410.21 539.40L407.01 535.85Z" fill="#000" stroke="#000" stroke-width="1.4"/>
<path d="M419.89 532.30L423.09 535.85L419.89 539.40L416.69 535.85Z" fill="#000" stroke="#000" stroke-width="1.4"/>
<path d="M429.57 532.08L432.77 535.63L429.57 539.18L426.38 535.63Z" fill="#000" stroke="#000" stroke-width="1.4"/>
<path d="M439.26 532.08L442.46 535.63L439.26 539.18L436.06 535.63Z" fill="#000" stroke="#000" stroke-width="1.4"/>
<path d="M448.94 532.08L452.14 535.63L448.94 539.18L445.74 535.63Z" fill="#000" stroke="#000" stroke-width="1.4"/>
<path d="M458.62 531.86L461.82 535.41L458.62 538.96L455.43 535.41Z" fill="#000" stroke="#000" stroke-width="1.4"/>
<path d="M468.31 531.86L471.51 535.41L468.31 538.96L465.11 535.41Z" fill="#000" stroke="#000" stroke-width="1.4"/>
<path d="M477.99 531.86L481.19 535.41L477.99 538.96L474.79 535.41Z" fill="#000" stroke="#000" stroke-width="1.4"/>
<path d="M494.94 531.86L498.14 535.41L494.94 538.96L491.74 535.41Z" fill="#000" stroke="#000" stroke-width="1.4"/>
<path d="M519.15 531.86L522.35 535.41L519.15 538.96L515.95 535.41Z" fill="#000" stroke="#000" stroke-width="1.4"/>
<path d="M543.35 531.86L546.55 535.41L543.35 538.96L540.15 535.41Z" fill="#000" stroke="#000" stroke-width="1.4"/>
<path d="M567.56 531.86L570.76 535.41L567.56 538.96L564.36 535.41Z" fill="#000" stroke="#000" stroke-width="1.4"/>
<path d="M591.77 531.86L594.97 535.41L591.77 538.96L588.57 535.41Z" fill="#000" stroke="#000" stroke-width="1.4"/>
<path d="M615.98 531.86L619.18 535.41L615.98 538.96L612.78 535.41Z" fill="#000" stroke="#000" stroke-width="1.4"/>
<path d="M640.19 531.86L643.39 535.41L640.19 538.96L636.99 535.41Z" fill="#000" stroke="#000" stroke-width="1.4"/>
<path d="M664.40 531.86L667.60 535.41L664.40 538.96L661.20 535.41Z" fill="#000" stroke="#000" stroke-width="1.4"/>
<path d="M482.3 358.80H509.6" stroke="#000" stroke-width="1.4"/>
<circle cx="496.15" cy="358.80" r="3.35" fill="#000" stroke="#000" stroke-width="1.4"/>
<text x="512.00" y="362.30" font-size="13.8" textLength="49.50" lengthAdjust="spacingAndGlyphs">Pancreas</text>
<path d="M482.3 373.40H509.6" stroke="#000" stroke-width="1.4"/>
<path d="M496.15 370.00L499.25 376.40L493.05 376.40Z" fill="#000" stroke="#000" stroke-width="1.4" stroke-linejoin="miter"/>
<text x="511.43" y="377.80" font-size="13.8" textLength="39.28" lengthAdjust="spacingAndGlyphs">Spleen</text>
<path d="M482.3 388.40H509.6" stroke="#000" stroke-width="1.4"/>
<rect x="492.70" y="384.95" width="6.9" height="6.9" fill="#000" stroke="#000" stroke-width="1.4"/>
<text x="511.90" y="393.20" font-size="13.8" textLength="47.37" lengthAdjust="spacingAndGlyphs">Intestine</text>
<path d="M482.3 404.30H509.6" stroke="#000" stroke-width="1.4"/>
<path d="M491.75 399.90L500.55 408.70M500.55 399.90L491.75 408.70M496.15 399.90L496.15 408.70" fill="none" stroke="#000" stroke-width="1.2"/>
<text x="512.01" y="408.00" font-size="13.8" textLength="40.27" lengthAdjust="spacingAndGlyphs">Muscle</text>
<path d="M482.3 419.50H509.6" stroke="#000" stroke-width="1.4"/>
<path d="M496.15 416.50L499.15 419.50L496.15 422.50L493.15 419.50Z" fill="#000" stroke="#000" stroke-width="1.4"/>
<text x="511.99" y="423.50" font-size="13.8" textLength="31.73" lengthAdjust="spacingAndGlyphs">Brain</text>
<text x="10.14" y="39.50" font-size="16.2" font-weight="bold" textLength="20.22" lengthAdjust="spacingAndGlyphs">(a)</text>
<text x="366.48" y="40.50" font-size="16.2" font-weight="bold" textLength="20.04" lengthAdjust="spacingAndGlyphs">(b)</text>
<text x="13.15" y="347.70" font-size="16.2" font-weight="bold" textLength="19.01" lengthAdjust="spacingAndGlyphs">(c)</text>
<text x="368.08" y="347.70" font-size="16.2" font-weight="bold" textLength="20.15" lengthAdjust="spacingAndGlyphs">(d)</text>
<text transform="translate(10.80,168.79) rotate(-90)" font-size="13.5" textLength="23.73" lengthAdjust="spacingAndGlyphs">SUV</text>
<text transform="translate(365.90,168.80) rotate(-90)" font-size="13.5" textLength="24.04" lengthAdjust="spacingAndGlyphs">SUV</text>
<text transform="translate(10.80,479.60) rotate(-90)" font-size="13.5" textLength="24.04" lengthAdjust="spacingAndGlyphs">SUV</text>
<text transform="translate(365.90,480.40) rotate(-90)" font-size="13.5" textLength="24.04" lengthAdjust="spacingAndGlyphs">SUV</text>
<text x="82.13" y="268.90" font-size="15.8" textLength="187.10" lengthAdjust="spacingAndGlyphs">Time after radioprobe injection</text>
<text x="275.05" y="268.90" font-size="15.8" textLength="32.80" lengthAdjust="spacingAndGlyphs">(min)</text>
<text x="438.43" y="268.90" font-size="15.8" textLength="187.10" lengthAdjust="spacingAndGlyphs">Time after radioprobe injection</text>
<text x="631.35" y="268.90" font-size="15.8" textLength="32.80" lengthAdjust="spacingAndGlyphs">(min)</text>
<text x="80.13" y="578.20" font-size="15.8" textLength="187.10" lengthAdjust="spacingAndGlyphs">Time after radioprobe injection</text>
<text x="273.05" y="578.20" font-size="15.8" textLength="32.80" lengthAdjust="spacingAndGlyphs">(min)</text>
<text x="436.33" y="575.10" font-size="15.8" textLength="187.10" lengthAdjust="spacingAndGlyphs">Time after radioprobe injection</text>
<text x="629.25" y="575.10" font-size="15.8" textLength="32.80" lengthAdjust="spacingAndGlyphs">(min)</text>
<text x="303.74" y="10.00" font-size="13.6" textLength="11.50" lengthAdjust="spacingAndGlyphs">11</text>
<text x="315.80" y="17.00" font-size="18.6" textLength="19.61" lengthAdjust="spacingAndGlyphs">C-</text>
<text x="335.46" y="17.00" font-size="15.0" textLength="9.36" lengthAdjust="spacingAndGlyphs">L</text>
<text x="345.41" y="17.00" font-size="18.6" textLength="58.82" lengthAdjust="spacingAndGlyphs">-1MTrp</text>
<text x="303.74" y="308.90" font-size="13.6" textLength="11.50" lengthAdjust="spacingAndGlyphs">11</text>
<text x="315.80" y="315.90" font-size="18.6" textLength="19.61" lengthAdjust="spacingAndGlyphs">C-</text>
<text x="335.41" y="315.90" font-size="15.0" textLength="12.16" lengthAdjust="spacingAndGlyphs">D</text>
<text x="347.50" y="315.90" font-size="18.6" textLength="59.33" lengthAdjust="spacingAndGlyphs">-1MTrp</text>
</svg></body></html>
